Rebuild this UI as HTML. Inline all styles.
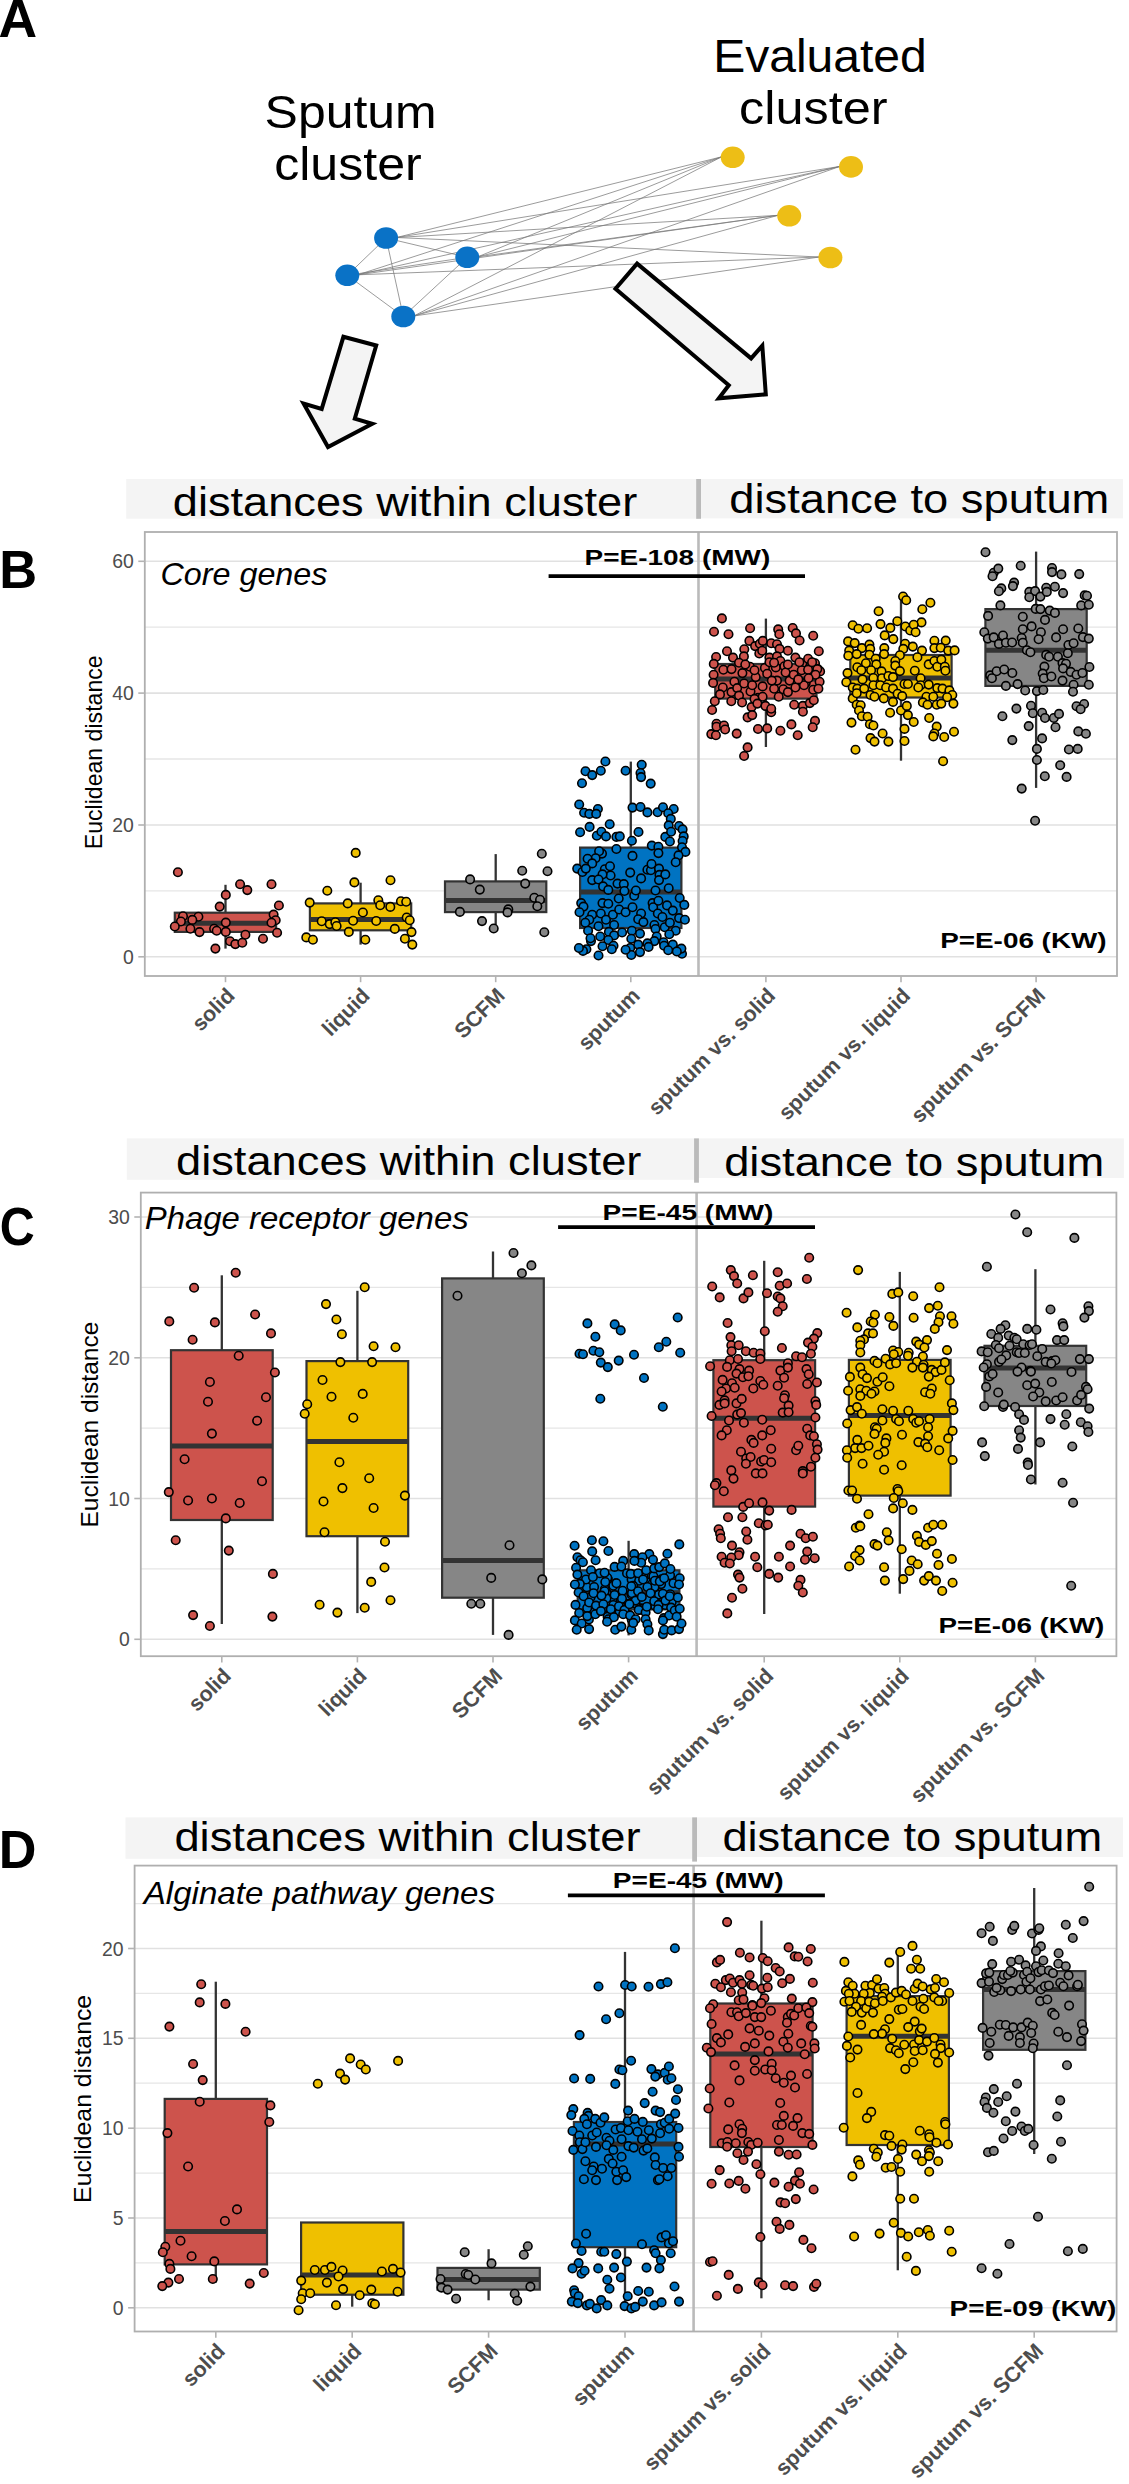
<!DOCTYPE html>
<html><head><meta charset="utf-8"><style>
html,body{margin:0;padding:0;background:#fff;}
body{width:1129px;height:2484px;overflow:hidden;}
svg{display:block;}
text{font-family:"Liberation Sans", sans-serif;}
</style></head><body>
<svg width="1129" height="2484" viewBox="0 0 1129 2484" font-family='"Liberation Sans", sans-serif'><text x="-1.5" y="37.2" font-size="53.5" fill="#000" font-weight="bold">A</text>
<text x="264.6" y="128.4" font-size="46.5" fill="#000" textLength="172.0" lengthAdjust="spacingAndGlyphs">Sputum</text>
<text x="274.2" y="180.2" font-size="46.5" fill="#000" textLength="147.6" lengthAdjust="spacingAndGlyphs">cluster</text>
<text x="713.2" y="72.3" font-size="46.5" fill="#000" textLength="213.6" lengthAdjust="spacingAndGlyphs">Evaluated</text>
<text x="739.0" y="124.4" font-size="46.5" fill="#000" textLength="148.5" lengthAdjust="spacingAndGlyphs">cluster</text>
<g stroke="#7a7a7a" stroke-width="0.75" fill="none">
<line x1="386.1" y1="238.0" x2="347.3" y2="275.3"/>
<line x1="347.3" y1="275.3" x2="403.3" y2="316.5"/>
<line x1="403.3" y1="316.5" x2="467.3" y2="257.3"/>
<line x1="386.1" y1="238.0" x2="403.3" y2="316.5"/>
<line x1="347.3" y1="275.3" x2="467.3" y2="257.3"/>
<line x1="386.1" y1="238.0" x2="467.3" y2="257.3"/>
<line x1="396.6" y1="237.5" x2="721.7" y2="156.8"/>
<line x1="396.6" y1="237.5" x2="840.0" y2="166.4"/>
<line x1="396.6" y1="237.5" x2="778.2" y2="215.3"/>
<line x1="396.6" y1="237.5" x2="819.4" y2="257.0"/>
<line x1="357.8" y1="274.8" x2="721.7" y2="156.8"/>
<line x1="357.8" y1="274.8" x2="840.0" y2="166.4"/>
<line x1="357.8" y1="274.8" x2="778.2" y2="215.3"/>
<line x1="357.8" y1="274.8" x2="819.4" y2="257.0"/>
<line x1="477.8" y1="256.8" x2="721.7" y2="156.8"/>
<line x1="477.8" y1="256.8" x2="840.0" y2="166.4"/>
<line x1="477.8" y1="256.8" x2="778.2" y2="215.3"/>
<line x1="413.8" y1="316.0" x2="721.7" y2="156.8"/>
<line x1="413.8" y1="316.0" x2="840.0" y2="166.4"/>
<line x1="413.8" y1="316.0" x2="778.2" y2="215.3"/>
<line x1="413.8" y1="316.0" x2="819.4" y2="257.0"/>
</g>
<ellipse cx="386.1" cy="238.0" rx="12" ry="10.8" fill="#0A72C6"/>
<ellipse cx="347.3" cy="275.3" rx="12" ry="10.8" fill="#0A72C6"/>
<ellipse cx="467.3" cy="257.3" rx="12" ry="10.8" fill="#0A72C6"/>
<ellipse cx="403.3" cy="316.5" rx="12" ry="10.8" fill="#0A72C6"/>
<ellipse cx="732.7" cy="157.3" rx="12" ry="10.8" fill="#EDBE16"/>
<ellipse cx="851.0" cy="166.9" rx="12" ry="10.8" fill="#EDBE16"/>
<ellipse cx="789.2" cy="215.8" rx="12" ry="10.8" fill="#EDBE16"/>
<ellipse cx="830.4" cy="257.5" rx="12" ry="10.8" fill="#EDBE16"/>
<path d="M343.4,336.8 L376.2,345.5 L354.8,418.6 L372.3,423.8 L328.0,447.1 L303.6,403.5 L321.7,408.9 Z" fill="#f4f4f4" stroke="#000" stroke-width="4" stroke-linejoin="miter"/>
<path d="M637.1,263.6 L751.1,358.4 L762.3,345.7 L765.8,394.3 L718.8,398.3 L728.8,385.2 L615.5,288.7 Z" fill="#f4f4f4" stroke="#000" stroke-width="4" stroke-linejoin="miter"/>
<rect x="126.2" y="479.0" width="572.4" height="39.7" fill="#f4f4f4" stroke="none" stroke-width="0" />
<rect x="698.6" y="479.0" width="424.4" height="39.4" fill="#f4f4f4" stroke="none" stroke-width="0" />
<rect x="696.2" y="479.0" width="4.8" height="39.8" fill="#bababa" stroke="none" stroke-width="0" />
<text x="172.8" y="516.2" font-size="41" fill="#000" textLength="464.5" lengthAdjust="spacingAndGlyphs">distances within cluster</text>
<text x="729.3" y="512.9" font-size="41" fill="#000" textLength="380.0" lengthAdjust="spacingAndGlyphs">distance to sputum</text>
<line x1="144.8" y1="890.9" x2="1117.0" y2="890.9" stroke="#e6e6e6" stroke-width="1.3" />
<line x1="144.8" y1="759.0" x2="1117.0" y2="759.0" stroke="#e6e6e6" stroke-width="1.3" />
<line x1="144.8" y1="627.2" x2="1117.0" y2="627.2" stroke="#e6e6e6" stroke-width="1.3" />
<line x1="144.8" y1="956.8" x2="1117.0" y2="956.8" stroke="#e1e1e1" stroke-width="1.6" />
<line x1="144.8" y1="825.0" x2="1117.0" y2="825.0" stroke="#e1e1e1" stroke-width="1.6" />
<line x1="144.8" y1="693.1" x2="1117.0" y2="693.1" stroke="#e1e1e1" stroke-width="1.6" />
<line x1="144.8" y1="561.3" x2="1117.0" y2="561.3" stroke="#e1e1e1" stroke-width="1.6" />
<line x1="698.5" y1="532.0" x2="698.5" y2="976.0" stroke="#bababa" stroke-width="2.6" />
<line x1="225.5" y1="884.8" x2="225.5" y2="912.7" stroke="#333333" stroke-width="2.3" />
<line x1="225.5" y1="931.9" x2="225.5" y2="948.6" stroke="#333333" stroke-width="2.3" />
<rect x="174.8" y="912.7" width="101.3" height="19.2" fill="#CD534C" stroke="#333333" stroke-width="2.2" />
<line x1="174.8" y1="923.3" x2="276.2" y2="923.3" stroke="#333333" stroke-width="5" />
<g fill="#CD534C" stroke="#000" stroke-width="1.6">
<circle cx="177.9" cy="872.3" r="4.25"/>
<circle cx="240.1" cy="884.3" r="4.25"/>
<circle cx="247.3" cy="890.1" r="4.25"/>
<circle cx="271.5" cy="884.3" r="4.25"/>
<circle cx="225.8" cy="894.9" r="4.25"/>
<circle cx="278.9" cy="905.5" r="4.25"/>
<circle cx="219.7" cy="906.6" r="4.25"/>
<circle cx="183.0" cy="916.2" r="4.25"/>
<circle cx="198.4" cy="916.7" r="4.25"/>
<circle cx="192.3" cy="919.9" r="4.25"/>
<circle cx="180.9" cy="921.5" r="4.25"/>
<circle cx="174.8" cy="926.5" r="4.25"/>
<circle cx="273.6" cy="914.6" r="4.25"/>
<circle cx="275.7" cy="920.2" r="4.25"/>
<circle cx="271.5" cy="922.8" r="4.25"/>
<circle cx="225.8" cy="922.6" r="4.25"/>
<circle cx="190.4" cy="928.7" r="4.25"/>
<circle cx="199.5" cy="932.1" r="4.25"/>
<circle cx="214.1" cy="928.7" r="4.25"/>
<circle cx="216.7" cy="930.8" r="4.25"/>
<circle cx="225.8" cy="931.9" r="4.25"/>
<circle cx="277.1" cy="932.7" r="4.25"/>
<circle cx="245.4" cy="934.8" r="4.25"/>
<circle cx="230.0" cy="941.2" r="4.25"/>
<circle cx="235.3" cy="944.1" r="4.25"/>
<circle cx="242.3" cy="942.7" r="4.25"/>
<circle cx="263.0" cy="938.8" r="4.25"/>
<circle cx="215.4" cy="948.6" r="4.25"/>
</g>
<line x1="360.6" y1="882.7" x2="360.6" y2="903.4" stroke="#333333" stroke-width="2.3" />
<line x1="360.6" y1="930.3" x2="360.6" y2="944.6" stroke="#333333" stroke-width="2.3" />
<rect x="309.9" y="903.4" width="101.3" height="26.9" fill="#EFC000" stroke="#333333" stroke-width="2.2" />
<line x1="309.9" y1="919.6" x2="411.3" y2="919.6" stroke="#333333" stroke-width="5" />
<g fill="#EFC000" stroke="#000" stroke-width="1.6">
<circle cx="355.7" cy="852.9" r="4.25"/>
<circle cx="354.4" cy="882.4" r="4.25"/>
<circle cx="390.5" cy="880.3" r="4.25"/>
<circle cx="327.3" cy="890.7" r="4.25"/>
<circle cx="309.7" cy="902.6" r="4.25"/>
<circle cx="347.7" cy="903.4" r="4.25"/>
<circle cx="378.3" cy="900.2" r="4.25"/>
<circle cx="380.2" cy="905.3" r="4.25"/>
<circle cx="390.3" cy="906.9" r="4.25"/>
<circle cx="400.9" cy="901.3" r="4.25"/>
<circle cx="406.2" cy="901.8" r="4.25"/>
<circle cx="362.9" cy="912.5" r="4.25"/>
<circle cx="321.7" cy="921.2" r="4.25"/>
<circle cx="329.7" cy="924.1" r="4.25"/>
<circle cx="335.3" cy="922.3" r="4.25"/>
<circle cx="336.6" cy="926.0" r="4.25"/>
<circle cx="353.1" cy="920.7" r="4.25"/>
<circle cx="376.2" cy="921.0" r="4.25"/>
<circle cx="406.7" cy="917.5" r="4.25"/>
<circle cx="409.7" cy="920.2" r="4.25"/>
<circle cx="348.8" cy="931.9" r="4.25"/>
<circle cx="394.8" cy="928.9" r="4.25"/>
<circle cx="411.5" cy="932.1" r="4.25"/>
<circle cx="306.3" cy="937.4" r="4.25"/>
<circle cx="312.9" cy="939.8" r="4.25"/>
<circle cx="365.3" cy="939.8" r="4.25"/>
<circle cx="404.9" cy="938.8" r="4.25"/>
<circle cx="412.3" cy="944.6" r="4.25"/>
</g>
<line x1="495.7" y1="854.1" x2="495.7" y2="881.4" stroke="#333333" stroke-width="2.3" />
<line x1="495.7" y1="912.1" x2="495.7" y2="924.8" stroke="#333333" stroke-width="2.3" />
<rect x="445.0" y="881.4" width="101.3" height="30.7" fill="#868686" stroke="#333333" stroke-width="2.2" />
<line x1="445.0" y1="900.5" x2="546.4" y2="900.5" stroke="#333333" stroke-width="5" />
<g fill="#868686" stroke="#000" stroke-width="1.6">
<circle cx="470.1" cy="879.4" r="4.25"/>
<circle cx="479.8" cy="889.6" r="4.25"/>
<circle cx="522.2" cy="870.7" r="4.25"/>
<circle cx="541.8" cy="853.8" r="4.25"/>
<circle cx="547.5" cy="871.2" r="4.25"/>
<circle cx="525.2" cy="883.6" r="4.25"/>
<circle cx="534.3" cy="897.7" r="4.25"/>
<circle cx="540.0" cy="899.7" r="4.25"/>
<circle cx="537.3" cy="906.2" r="4.25"/>
<circle cx="508.3" cy="909.4" r="4.25"/>
<circle cx="507.5" cy="912.4" r="4.25"/>
<circle cx="459.9" cy="911.9" r="4.25"/>
<circle cx="482.0" cy="921.1" r="4.25"/>
<circle cx="493.7" cy="928.5" r="4.25"/>
<circle cx="544.3" cy="932.2" r="4.25"/>
</g>
<line x1="630.8" y1="761.6" x2="630.8" y2="847.6" stroke="#333333" stroke-width="2.3" />
<line x1="630.8" y1="928.0" x2="630.8" y2="955.5" stroke="#333333" stroke-width="2.3" />
<rect x="580.1" y="847.6" width="101.3" height="80.4" fill="#0073C2" stroke="#333333" stroke-width="2.2" />
<line x1="580.1" y1="892.0" x2="681.5" y2="892.0" stroke="#333333" stroke-width="5" />
<g fill="#0073C2" stroke="#000" stroke-width="1.6">
<circle cx="605.4" cy="761.5" r="4.25"/>
<circle cx="585.5" cy="771.3" r="4.25"/>
<circle cx="592.2" cy="775.1" r="4.25"/>
<circle cx="600.8" cy="770.7" r="4.25"/>
<circle cx="582.0" cy="783.2" r="4.25"/>
<circle cx="625.6" cy="770.7" r="4.25"/>
<circle cx="641.7" cy="764.7" r="4.25"/>
<circle cx="640.5" cy="773.0" r="4.25"/>
<circle cx="641.1" cy="777.1" r="4.25"/>
<circle cx="650.7" cy="783.6" r="4.25"/>
<circle cx="579.2" cy="804.5" r="4.25"/>
<circle cx="584.1" cy="812.8" r="4.25"/>
<circle cx="589.3" cy="813.9" r="4.25"/>
<circle cx="597.9" cy="809.0" r="4.25"/>
<circle cx="596.2" cy="813.9" r="4.25"/>
<circle cx="632.5" cy="807.6" r="4.25"/>
<circle cx="640.5" cy="807.0" r="4.25"/>
<circle cx="647.4" cy="812.4" r="4.25"/>
<circle cx="657.6" cy="812.2" r="4.25"/>
<circle cx="663.0" cy="807.3" r="4.25"/>
<circle cx="673.7" cy="809.0" r="4.25"/>
<circle cx="668.2" cy="813.3" r="4.25"/>
<circle cx="670.8" cy="818.9" r="4.25"/>
<circle cx="580.1" cy="832.3" r="4.25"/>
<circle cx="589.6" cy="826.9" r="4.25"/>
<circle cx="596.8" cy="835.8" r="4.25"/>
<circle cx="601.4" cy="831.8" r="4.25"/>
<circle cx="606.0" cy="836.4" r="4.25"/>
<circle cx="609.7" cy="824.3" r="4.25"/>
<circle cx="616.4" cy="836.9" r="4.25"/>
<circle cx="619.8" cy="836.4" r="4.25"/>
<circle cx="631.9" cy="840.7" r="4.25"/>
<circle cx="638.5" cy="832.0" r="4.25"/>
<circle cx="665.3" cy="836.9" r="4.25"/>
<circle cx="668.7" cy="825.4" r="4.25"/>
<circle cx="671.1" cy="831.8" r="4.25"/>
<circle cx="669.9" cy="841.5" r="4.25"/>
<circle cx="679.1" cy="826.0" r="4.25"/>
<circle cx="682.6" cy="829.4" r="4.25"/>
<circle cx="683.7" cy="836.4" r="4.25"/>
<circle cx="682.6" cy="841.0" r="4.25"/>
<circle cx="682.0" cy="847.3" r="4.25"/>
<circle cx="685.4" cy="851.9" r="4.25"/>
<circle cx="678.5" cy="855.4" r="4.25"/>
<circle cx="675.7" cy="862.3" r="4.25"/>
<circle cx="616.4" cy="849.0" r="4.25"/>
<circle cx="632.5" cy="855.9" r="4.25"/>
<circle cx="651.8" cy="845.6" r="4.25"/>
<circle cx="658.4" cy="846.7" r="4.25"/>
<circle cx="658.4" cy="853.1" r="4.25"/>
<circle cx="602.0" cy="853.6" r="4.25"/>
<circle cx="599.1" cy="851.3" r="4.25"/>
<circle cx="595.6" cy="858.2" r="4.25"/>
<circle cx="587.6" cy="858.8" r="4.25"/>
<circle cx="592.2" cy="863.4" r="4.25"/>
<circle cx="577.2" cy="868.6" r="4.25"/>
<circle cx="582.4" cy="872.0" r="4.25"/>
<circle cx="585.8" cy="868.6" r="4.25"/>
<circle cx="604.8" cy="869.2" r="4.25"/>
<circle cx="610.0" cy="866.3" r="4.25"/>
<circle cx="610.6" cy="875.5" r="4.25"/>
<circle cx="602.5" cy="874.4" r="4.25"/>
<circle cx="592.2" cy="880.1" r="4.25"/>
<circle cx="598.5" cy="879.5" r="4.25"/>
<circle cx="603.1" cy="886.4" r="4.25"/>
<circle cx="608.3" cy="889.9" r="4.25"/>
<circle cx="630.2" cy="872.6" r="4.25"/>
<circle cx="641.1" cy="878.4" r="4.25"/>
<circle cx="647.4" cy="869.7" r="4.25"/>
<circle cx="650.9" cy="870.3" r="4.25"/>
<circle cx="651.5" cy="864.0" r="4.25"/>
<circle cx="659.0" cy="868.6" r="4.25"/>
<circle cx="659.5" cy="874.9" r="4.25"/>
<circle cx="659.0" cy="880.1" r="4.25"/>
<circle cx="665.3" cy="874.4" r="4.25"/>
<circle cx="617.5" cy="883.6" r="4.25"/>
<circle cx="623.8" cy="884.1" r="4.25"/>
<circle cx="624.4" cy="891.0" r="4.25"/>
<circle cx="618.7" cy="898.5" r="4.25"/>
<circle cx="634.2" cy="895.7" r="4.25"/>
<circle cx="635.9" cy="890.5" r="4.25"/>
<circle cx="655.5" cy="890.5" r="4.25"/>
<circle cx="668.7" cy="888.2" r="4.25"/>
<circle cx="581.2" cy="903.1" r="4.25"/>
<circle cx="583.5" cy="906.6" r="4.25"/>
<circle cx="602.5" cy="903.1" r="4.25"/>
<circle cx="608.3" cy="903.7" r="4.25"/>
<circle cx="579.5" cy="912.3" r="4.25"/>
<circle cx="592.2" cy="914.7" r="4.25"/>
<circle cx="600.8" cy="913.5" r="4.25"/>
<circle cx="589.3" cy="919.8" r="4.25"/>
<circle cx="606.0" cy="919.8" r="4.25"/>
<circle cx="612.9" cy="914.7" r="4.25"/>
<circle cx="619.2" cy="909.5" r="4.25"/>
<circle cx="625.6" cy="912.3" r="4.25"/>
<circle cx="632.5" cy="907.2" r="4.25"/>
<circle cx="641.1" cy="913.5" r="4.25"/>
<circle cx="638.2" cy="919.3" r="4.25"/>
<circle cx="643.4" cy="922.1" r="4.25"/>
<circle cx="652.6" cy="903.1" r="4.25"/>
<circle cx="653.2" cy="907.2" r="4.25"/>
<circle cx="658.4" cy="900.8" r="4.25"/>
<circle cx="657.8" cy="913.5" r="4.25"/>
<circle cx="662.4" cy="917.0" r="4.25"/>
<circle cx="667.0" cy="905.4" r="4.25"/>
<circle cx="672.8" cy="910.6" r="4.25"/>
<circle cx="679.7" cy="898.0" r="4.25"/>
<circle cx="684.3" cy="904.9" r="4.25"/>
<circle cx="679.1" cy="918.1" r="4.25"/>
<circle cx="684.9" cy="919.8" r="4.25"/>
<circle cx="585.3" cy="922.7" r="4.25"/>
<circle cx="598.5" cy="926.2" r="4.25"/>
<circle cx="614.1" cy="925.0" r="4.25"/>
<circle cx="588.1" cy="930.8" r="4.25"/>
<circle cx="600.2" cy="936.5" r="4.25"/>
<circle cx="608.9" cy="931.9" r="4.25"/>
<circle cx="614.1" cy="935.4" r="4.25"/>
<circle cx="622.1" cy="932.5" r="4.25"/>
<circle cx="631.9" cy="930.8" r="4.25"/>
<circle cx="640.0" cy="933.6" r="4.25"/>
<circle cx="631.3" cy="938.8" r="4.25"/>
<circle cx="608.3" cy="940.0" r="4.25"/>
<circle cx="591.0" cy="941.1" r="4.25"/>
<circle cx="590.5" cy="938.3" r="4.25"/>
<circle cx="654.4" cy="925.0" r="4.25"/>
<circle cx="655.5" cy="929.0" r="4.25"/>
<circle cx="656.7" cy="936.5" r="4.25"/>
<circle cx="654.4" cy="941.1" r="4.25"/>
<circle cx="664.7" cy="927.3" r="4.25"/>
<circle cx="669.9" cy="922.7" r="4.25"/>
<circle cx="675.7" cy="930.8" r="4.25"/>
<circle cx="669.3" cy="934.2" r="4.25"/>
<circle cx="663.6" cy="942.3" r="4.25"/>
<circle cx="664.1" cy="945.7" r="4.25"/>
<circle cx="672.8" cy="944.6" r="4.25"/>
<circle cx="647.4" cy="943.4" r="4.25"/>
<circle cx="648.6" cy="946.9" r="4.25"/>
<circle cx="638.2" cy="944.6" r="4.25"/>
<circle cx="640.0" cy="952.1" r="4.25"/>
<circle cx="630.2" cy="948.0" r="4.25"/>
<circle cx="631.3" cy="955.0" r="4.25"/>
<circle cx="625.6" cy="949.8" r="4.25"/>
<circle cx="613.5" cy="945.7" r="4.25"/>
<circle cx="611.8" cy="949.2" r="4.25"/>
<circle cx="602.5" cy="946.3" r="4.25"/>
<circle cx="598.5" cy="955.5" r="4.25"/>
<circle cx="586.4" cy="949.2" r="4.25"/>
<circle cx="583.0" cy="950.9" r="4.25"/>
<circle cx="578.9" cy="948.0" r="4.25"/>
<circle cx="668.2" cy="950.3" r="4.25"/>
<circle cx="679.7" cy="949.8" r="4.25"/>
<circle cx="682.0" cy="953.8" r="4.25"/>
<circle cx="681.4" cy="948.6" r="4.25"/>
<circle cx="676.8" cy="951.5" r="4.25"/>
</g>
<line x1="765.9" y1="618.6" x2="765.9" y2="664.0" stroke="#333333" stroke-width="2.3" />
<line x1="765.9" y1="698.6" x2="765.9" y2="747.0" stroke="#333333" stroke-width="2.3" />
<rect x="715.2" y="664.0" width="101.3" height="34.6" fill="#CD534C" stroke="#333333" stroke-width="2.2" />
<line x1="715.2" y1="678.9" x2="816.6" y2="678.9" stroke="#333333" stroke-width="5" />
<g fill="#CD534C" stroke="#000" stroke-width="1.6">
<circle cx="721.9" cy="618.4" r="4.25"/>
<circle cx="714.0" cy="631.7" r="4.25"/>
<circle cx="728.5" cy="634.2" r="4.25"/>
<circle cx="750.1" cy="628.2" r="4.25"/>
<circle cx="778.2" cy="629.4" r="4.25"/>
<circle cx="779.3" cy="634.3" r="4.25"/>
<circle cx="792.7" cy="628.0" r="4.25"/>
<circle cx="796.0" cy="633.4" r="4.25"/>
<circle cx="799.6" cy="640.5" r="4.25"/>
<circle cx="813.2" cy="635.7" r="4.25"/>
<circle cx="818.8" cy="651.2" r="4.25"/>
<circle cx="749.4" cy="640.9" r="4.25"/>
<circle cx="755.1" cy="646.1" r="4.25"/>
<circle cx="759.8" cy="643.8" r="4.25"/>
<circle cx="762.8" cy="640.9" r="4.25"/>
<circle cx="759.3" cy="653.5" r="4.25"/>
<circle cx="762.2" cy="650.7" r="4.25"/>
<circle cx="771.2" cy="643.2" r="4.25"/>
<circle cx="777.0" cy="644.3" r="4.25"/>
<circle cx="779.6" cy="648.9" r="4.25"/>
<circle cx="787.9" cy="650.7" r="4.25"/>
<circle cx="727.0" cy="651.2" r="4.25"/>
<circle cx="733.0" cy="657.6" r="4.25"/>
<circle cx="744.3" cy="649.3" r="4.25"/>
<circle cx="743.9" cy="656.4" r="4.25"/>
<circle cx="716.1" cy="657.0" r="4.25"/>
<circle cx="713.8" cy="663.9" r="4.25"/>
<circle cx="739.0" cy="662.8" r="4.25"/>
<circle cx="769.5" cy="657.6" r="4.25"/>
<circle cx="777.0" cy="656.4" r="4.25"/>
<circle cx="780.4" cy="661.0" r="4.25"/>
<circle cx="795.4" cy="657.6" r="4.25"/>
<circle cx="802.3" cy="663.3" r="4.25"/>
<circle cx="808.1" cy="658.7" r="4.25"/>
<circle cx="815.0" cy="663.3" r="4.25"/>
<circle cx="817.8" cy="669.1" r="4.25"/>
<circle cx="820.1" cy="671.4" r="4.25"/>
<circle cx="723.4" cy="669.7" r="4.25"/>
<circle cx="713.6" cy="674.8" r="4.25"/>
<circle cx="713.1" cy="682.9" r="4.25"/>
<circle cx="722.8" cy="687.5" r="4.25"/>
<circle cx="720.0" cy="694.4" r="4.25"/>
<circle cx="731.5" cy="692.1" r="4.25"/>
<circle cx="734.4" cy="681.8" r="4.25"/>
<circle cx="737.2" cy="688.1" r="4.25"/>
<circle cx="739.0" cy="695.6" r="4.25"/>
<circle cx="742.4" cy="673.1" r="4.25"/>
<circle cx="744.1" cy="683.5" r="4.25"/>
<circle cx="749.9" cy="666.8" r="4.25"/>
<circle cx="750.5" cy="691.5" r="4.25"/>
<circle cx="752.2" cy="685.2" r="4.25"/>
<circle cx="755.7" cy="677.1" r="4.25"/>
<circle cx="762.6" cy="686.4" r="4.25"/>
<circle cx="764.9" cy="667.9" r="4.25"/>
<circle cx="767.2" cy="673.7" r="4.25"/>
<circle cx="774.1" cy="688.7" r="4.25"/>
<circle cx="775.8" cy="667.4" r="4.25"/>
<circle cx="777.0" cy="680.6" r="4.25"/>
<circle cx="778.7" cy="696.7" r="4.25"/>
<circle cx="783.3" cy="689.2" r="4.25"/>
<circle cx="784.4" cy="666.2" r="4.25"/>
<circle cx="785.6" cy="672.5" r="4.25"/>
<circle cx="789.6" cy="680.6" r="4.25"/>
<circle cx="793.7" cy="674.8" r="4.25"/>
<circle cx="795.4" cy="687.5" r="4.25"/>
<circle cx="801.7" cy="670.2" r="4.25"/>
<circle cx="805.7" cy="682.9" r="4.25"/>
<circle cx="808.1" cy="669.7" r="4.25"/>
<circle cx="813.2" cy="689.8" r="4.25"/>
<circle cx="817.3" cy="669.1" r="4.25"/>
<circle cx="819.6" cy="681.8" r="4.25"/>
<circle cx="818.4" cy="688.7" r="4.25"/>
<circle cx="758.0" cy="697.9" r="4.25"/>
<circle cx="762.6" cy="696.7" r="4.25"/>
<circle cx="754.5" cy="699.0" r="4.25"/>
<circle cx="769.5" cy="662.2" r="4.25"/>
<circle cx="774.1" cy="662.8" r="4.25"/>
<circle cx="787.9" cy="664.5" r="4.25"/>
<circle cx="799.4" cy="662.2" r="4.25"/>
<circle cx="812.1" cy="662.2" r="4.25"/>
<circle cx="815.5" cy="674.8" r="4.25"/>
<circle cx="787.9" cy="692.1" r="4.25"/>
<circle cx="804.0" cy="685.2" r="4.25"/>
<circle cx="808.6" cy="678.3" r="4.25"/>
<circle cx="745.3" cy="664.5" r="4.25"/>
<circle cx="754.5" cy="670.2" r="4.25"/>
<circle cx="771.8" cy="680.6" r="4.25"/>
<circle cx="798.3" cy="679.4" r="4.25"/>
<circle cx="731.5" cy="669.1" r="4.25"/>
<circle cx="714.8" cy="701.3" r="4.25"/>
<circle cx="712.1" cy="710.0" r="4.25"/>
<circle cx="731.3" cy="701.3" r="4.25"/>
<circle cx="742.1" cy="702.5" r="4.25"/>
<circle cx="751.6" cy="707.1" r="4.25"/>
<circle cx="757.4" cy="703.6" r="4.25"/>
<circle cx="765.4" cy="705.9" r="4.25"/>
<circle cx="771.2" cy="712.3" r="4.25"/>
<circle cx="771.2" cy="708.8" r="4.25"/>
<circle cx="747.6" cy="717.4" r="4.25"/>
<circle cx="752.2" cy="715.1" r="4.25"/>
<circle cx="794.2" cy="704.8" r="4.25"/>
<circle cx="802.9" cy="705.9" r="4.25"/>
<circle cx="802.9" cy="711.7" r="4.25"/>
<circle cx="809.8" cy="703.1" r="4.25"/>
<circle cx="813.8" cy="700.2" r="4.25"/>
<circle cx="716.5" cy="723.8" r="4.25"/>
<circle cx="716.5" cy="726.7" r="4.25"/>
<circle cx="724.0" cy="725.5" r="4.25"/>
<circle cx="725.1" cy="729.5" r="4.25"/>
<circle cx="711.3" cy="734.1" r="4.25"/>
<circle cx="715.9" cy="735.3" r="4.25"/>
<circle cx="736.7" cy="733.6" r="4.25"/>
<circle cx="758.0" cy="729.0" r="4.25"/>
<circle cx="767.2" cy="728.4" r="4.25"/>
<circle cx="780.4" cy="730.7" r="4.25"/>
<circle cx="791.4" cy="724.4" r="4.25"/>
<circle cx="797.7" cy="735.3" r="4.25"/>
<circle cx="815.0" cy="720.9" r="4.25"/>
<circle cx="812.7" cy="727.2" r="4.25"/>
<circle cx="747.6" cy="747.4" r="4.25"/>
<circle cx="744.1" cy="756.0" r="4.25"/>
</g>
<line x1="901.0" y1="598.8" x2="901.0" y2="655.0" stroke="#333333" stroke-width="2.3" />
<line x1="901.0" y1="697.5" x2="901.0" y2="760.7" stroke="#333333" stroke-width="2.3" />
<rect x="850.3" y="655.0" width="101.3" height="42.5" fill="#EFC000" stroke="#333333" stroke-width="2.2" />
<line x1="850.3" y1="678.1" x2="951.7" y2="678.1" stroke="#333333" stroke-width="5" />
<g fill="#EFC000" stroke="#000" stroke-width="1.6">
<circle cx="903.1" cy="596.5" r="4.25"/>
<circle cx="906.2" cy="600.2" r="4.25"/>
<circle cx="930.4" cy="602.8" r="4.25"/>
<circle cx="922.3" cy="609.2" r="4.25"/>
<circle cx="878.6" cy="611.3" r="4.25"/>
<circle cx="897.3" cy="621.3" r="4.25"/>
<circle cx="921.5" cy="622.4" r="4.25"/>
<circle cx="852.7" cy="625.3" r="4.25"/>
<circle cx="858.4" cy="628.8" r="4.25"/>
<circle cx="867.1" cy="628.2" r="4.25"/>
<circle cx="880.5" cy="624.1" r="4.25"/>
<circle cx="890.3" cy="627.9" r="4.25"/>
<circle cx="905.4" cy="626.5" r="4.25"/>
<circle cx="910.2" cy="630.5" r="4.25"/>
<circle cx="913.7" cy="624.7" r="4.25"/>
<circle cx="915.6" cy="632.2" r="4.25"/>
<circle cx="884.7" cy="635.4" r="4.25"/>
<circle cx="893.3" cy="639.1" r="4.25"/>
<circle cx="848.1" cy="641.4" r="4.25"/>
<circle cx="854.7" cy="643.1" r="4.25"/>
<circle cx="861.9" cy="648.1" r="4.25"/>
<circle cx="869.4" cy="644.6" r="4.25"/>
<circle cx="870.2" cy="648.9" r="4.25"/>
<circle cx="884.3" cy="648.1" r="4.25"/>
<circle cx="884.1" cy="654.1" r="4.25"/>
<circle cx="905.1" cy="643.7" r="4.25"/>
<circle cx="903.3" cy="648.9" r="4.25"/>
<circle cx="912.8" cy="646.6" r="4.25"/>
<circle cx="922.0" cy="650.6" r="4.25"/>
<circle cx="934.4" cy="640.8" r="4.25"/>
<circle cx="945.7" cy="640.6" r="4.25"/>
<circle cx="934.4" cy="648.1" r="4.25"/>
<circle cx="940.7" cy="647.8" r="4.25"/>
<circle cx="948.2" cy="650.6" r="4.25"/>
<circle cx="954.6" cy="650.4" r="4.25"/>
<circle cx="849.2" cy="650.6" r="4.25"/>
<circle cx="848.3" cy="655.8" r="4.25"/>
<circle cx="856.7" cy="654.1" r="4.25"/>
<circle cx="869.4" cy="654.7" r="4.25"/>
<circle cx="899.9" cy="655.2" r="4.25"/>
<circle cx="875.7" cy="658.7" r="4.25"/>
<circle cx="876.3" cy="664.4" r="4.25"/>
<circle cx="895.3" cy="661.0" r="4.25"/>
<circle cx="895.3" cy="665.6" r="4.25"/>
<circle cx="899.9" cy="671.1" r="4.25"/>
<circle cx="917.4" cy="657.3" r="4.25"/>
<circle cx="865.9" cy="663.3" r="4.25"/>
<circle cx="857.3" cy="667.3" r="4.25"/>
<circle cx="861.3" cy="670.2" r="4.25"/>
<circle cx="871.1" cy="670.2" r="4.25"/>
<circle cx="847.5" cy="673.1" r="4.25"/>
<circle cx="846.3" cy="682.3" r="4.25"/>
<circle cx="862.5" cy="679.4" r="4.25"/>
<circle cx="873.4" cy="678.0" r="4.25"/>
<circle cx="881.5" cy="671.4" r="4.25"/>
<circle cx="882.0" cy="678.3" r="4.25"/>
<circle cx="888.4" cy="676.0" r="4.25"/>
<circle cx="893.0" cy="677.1" r="4.25"/>
<circle cx="904.5" cy="684.0" r="4.25"/>
<circle cx="907.9" cy="684.0" r="4.25"/>
<circle cx="914.8" cy="670.8" r="4.25"/>
<circle cx="920.6" cy="678.3" r="4.25"/>
<circle cx="920.6" cy="685.2" r="4.25"/>
<circle cx="918.3" cy="687.5" r="4.25"/>
<circle cx="928.7" cy="664.4" r="4.25"/>
<circle cx="934.4" cy="661.0" r="4.25"/>
<circle cx="937.3" cy="666.8" r="4.25"/>
<circle cx="941.3" cy="659.6" r="4.25"/>
<circle cx="944.8" cy="666.8" r="4.25"/>
<circle cx="945.4" cy="670.8" r="4.25"/>
<circle cx="928.7" cy="684.6" r="4.25"/>
<circle cx="937.3" cy="688.1" r="4.25"/>
<circle cx="942.5" cy="688.6" r="4.25"/>
<circle cx="949.4" cy="690.4" r="4.25"/>
<circle cx="952.3" cy="695.0" r="4.25"/>
<circle cx="852.7" cy="687.5" r="4.25"/>
<circle cx="857.3" cy="688.6" r="4.25"/>
<circle cx="864.2" cy="688.6" r="4.25"/>
<circle cx="873.4" cy="685.2" r="4.25"/>
<circle cx="880.3" cy="685.2" r="4.25"/>
<circle cx="886.1" cy="687.5" r="4.25"/>
<circle cx="893.0" cy="688.6" r="4.25"/>
<circle cx="897.6" cy="693.8" r="4.25"/>
<circle cx="902.2" cy="696.1" r="4.25"/>
<circle cx="870.5" cy="695.0" r="4.25"/>
<circle cx="874.5" cy="696.7" r="4.25"/>
<circle cx="883.8" cy="698.4" r="4.25"/>
<circle cx="893.0" cy="701.9" r="4.25"/>
<circle cx="852.7" cy="698.4" r="4.25"/>
<circle cx="926.4" cy="696.7" r="4.25"/>
<circle cx="933.3" cy="696.7" r="4.25"/>
<circle cx="947.1" cy="697.3" r="4.25"/>
<circle cx="856.7" cy="693.2" r="4.25"/>
<circle cx="856.7" cy="704.7" r="4.25"/>
<circle cx="860.7" cy="705.3" r="4.25"/>
<circle cx="859.0" cy="710.5" r="4.25"/>
<circle cx="861.9" cy="716.3" r="4.25"/>
<circle cx="867.6" cy="716.8" r="4.25"/>
<circle cx="851.5" cy="722.6" r="4.25"/>
<circle cx="869.9" cy="724.3" r="4.25"/>
<circle cx="873.4" cy="725.5" r="4.25"/>
<circle cx="890.1" cy="712.8" r="4.25"/>
<circle cx="901.0" cy="710.5" r="4.25"/>
<circle cx="906.8" cy="705.9" r="4.25"/>
<circle cx="907.9" cy="715.1" r="4.25"/>
<circle cx="913.7" cy="722.0" r="4.25"/>
<circle cx="922.9" cy="702.4" r="4.25"/>
<circle cx="927.5" cy="704.7" r="4.25"/>
<circle cx="936.7" cy="704.7" r="4.25"/>
<circle cx="941.3" cy="703.6" r="4.25"/>
<circle cx="953.4" cy="703.6" r="4.25"/>
<circle cx="929.2" cy="718.0" r="4.25"/>
<circle cx="936.7" cy="726.6" r="4.25"/>
<circle cx="934.4" cy="733.5" r="4.25"/>
<circle cx="933.3" cy="736.4" r="4.25"/>
<circle cx="944.2" cy="737.0" r="4.25"/>
<circle cx="954.0" cy="731.8" r="4.25"/>
<circle cx="904.5" cy="728.9" r="4.25"/>
<circle cx="904.5" cy="741.0" r="4.25"/>
<circle cx="882.6" cy="733.5" r="4.25"/>
<circle cx="870.5" cy="738.1" r="4.25"/>
<circle cx="874.5" cy="741.6" r="4.25"/>
<circle cx="888.4" cy="741.6" r="4.25"/>
<circle cx="855.5" cy="749.7" r="4.25"/>
<circle cx="943.1" cy="761.2" r="4.25"/>
</g>
<line x1="1036.1" y1="551.6" x2="1036.1" y2="609.1" stroke="#333333" stroke-width="2.3" />
<line x1="1036.1" y1="685.9" x2="1036.1" y2="787.9" stroke="#333333" stroke-width="2.3" />
<rect x="985.4" y="609.1" width="101.3" height="76.8" fill="#868686" stroke="#333333" stroke-width="2.2" />
<line x1="985.4" y1="650.2" x2="1086.8" y2="650.2" stroke="#333333" stroke-width="5" />
<g fill="#868686" stroke="#000" stroke-width="1.6">
<circle cx="985.5" cy="552.3" r="4.25"/>
<circle cx="1020.7" cy="565.7" r="4.25"/>
<circle cx="993.7" cy="572.7" r="4.25"/>
<circle cx="998.3" cy="568.6" r="4.25"/>
<circle cx="992.5" cy="576.2" r="4.25"/>
<circle cx="1014.1" cy="582.6" r="4.25"/>
<circle cx="1012.9" cy="586.1" r="4.25"/>
<circle cx="1001.3" cy="588.4" r="4.25"/>
<circle cx="998.9" cy="591.3" r="4.25"/>
<circle cx="1029.3" cy="591.9" r="4.25"/>
<circle cx="1035.1" cy="591.1" r="4.25"/>
<circle cx="1029.3" cy="597.2" r="4.25"/>
<circle cx="1040.4" cy="596.6" r="4.25"/>
<circle cx="1046.2" cy="587.8" r="4.25"/>
<circle cx="1046.8" cy="591.9" r="4.25"/>
<circle cx="1054.9" cy="586.7" r="4.25"/>
<circle cx="1052.0" cy="568.0" r="4.25"/>
<circle cx="1052.0" cy="572.1" r="4.25"/>
<circle cx="1061.4" cy="574.4" r="4.25"/>
<circle cx="1079.2" cy="574.1" r="4.25"/>
<circle cx="1063.1" cy="593.1" r="4.25"/>
<circle cx="1084.7" cy="595.4" r="4.25"/>
<circle cx="1087.0" cy="595.8" r="4.25"/>
<circle cx="1000.4" cy="605.4" r="4.25"/>
<circle cx="1081.2" cy="605.4" r="4.25"/>
<circle cx="1088.8" cy="604.8" r="4.25"/>
<circle cx="1035.7" cy="608.9" r="4.25"/>
<circle cx="1040.4" cy="609.1" r="4.25"/>
<circle cx="1049.7" cy="610.6" r="4.25"/>
<circle cx="1054.9" cy="612.9" r="4.25"/>
<circle cx="988.1" cy="615.9" r="4.25"/>
<circle cx="1022.8" cy="616.8" r="4.25"/>
<circle cx="1045.0" cy="619.9" r="4.25"/>
<circle cx="1031.6" cy="626.4" r="4.25"/>
<circle cx="1022.8" cy="629.3" r="4.25"/>
<circle cx="1040.9" cy="632.2" r="4.25"/>
<circle cx="1063.1" cy="629.3" r="4.25"/>
<circle cx="1078.3" cy="628.5" r="4.25"/>
<circle cx="984.3" cy="632.2" r="4.25"/>
<circle cx="987.8" cy="638.6" r="4.25"/>
<circle cx="993.7" cy="637.4" r="4.25"/>
<circle cx="1003.0" cy="635.5" r="4.25"/>
<circle cx="998.9" cy="643.9" r="4.25"/>
<circle cx="1005.9" cy="642.7" r="4.25"/>
<circle cx="1012.1" cy="642.5" r="4.25"/>
<circle cx="1021.7" cy="638.0" r="4.25"/>
<circle cx="1022.8" cy="642.7" r="4.25"/>
<circle cx="1038.6" cy="639.2" r="4.25"/>
<circle cx="1056.1" cy="637.4" r="4.25"/>
<circle cx="1082.9" cy="637.1" r="4.25"/>
<circle cx="1088.8" cy="638.6" r="4.25"/>
<circle cx="1068.4" cy="645.0" r="4.25"/>
<circle cx="1073.6" cy="643.3" r="4.25"/>
<circle cx="1026.9" cy="650.3" r="4.25"/>
<circle cx="1030.4" cy="652.3" r="4.25"/>
<circle cx="1046.2" cy="654.9" r="4.25"/>
<circle cx="1049.1" cy="656.7" r="4.25"/>
<circle cx="1057.9" cy="656.7" r="4.25"/>
<circle cx="1067.8" cy="653.2" r="4.25"/>
<circle cx="1062.5" cy="663.1" r="4.25"/>
<circle cx="1066.0" cy="663.7" r="4.25"/>
<circle cx="1044.4" cy="666.6" r="4.25"/>
<circle cx="990.2" cy="675.4" r="4.25"/>
<circle cx="996.6" cy="671.3" r="4.25"/>
<circle cx="1004.2" cy="669.5" r="4.25"/>
<circle cx="1012.3" cy="673.0" r="4.25"/>
<circle cx="991.9" cy="678.3" r="4.25"/>
<circle cx="1042.7" cy="673.6" r="4.25"/>
<circle cx="1043.9" cy="678.3" r="4.25"/>
<circle cx="1051.4" cy="676.5" r="4.25"/>
<circle cx="1063.1" cy="668.4" r="4.25"/>
<circle cx="1070.7" cy="671.9" r="4.25"/>
<circle cx="1076.5" cy="674.8" r="4.25"/>
<circle cx="1082.4" cy="673.0" r="4.25"/>
<circle cx="1089.4" cy="667.0" r="4.25"/>
<circle cx="1062.5" cy="680.6" r="4.25"/>
<circle cx="1005.9" cy="685.9" r="4.25"/>
<circle cx="1017.6" cy="684.1" r="4.25"/>
<circle cx="1025.2" cy="690.5" r="4.25"/>
<circle cx="1036.9" cy="691.1" r="4.25"/>
<circle cx="1043.3" cy="690.0" r="4.25"/>
<circle cx="1073.6" cy="684.7" r="4.25"/>
<circle cx="1073.0" cy="691.7" r="4.25"/>
<circle cx="1088.8" cy="684.7" r="4.25"/>
<circle cx="1031.0" cy="705.7" r="4.25"/>
<circle cx="1016.4" cy="708.6" r="4.25"/>
<circle cx="1002.4" cy="716.2" r="4.25"/>
<circle cx="1032.8" cy="713.3" r="4.25"/>
<circle cx="1042.1" cy="712.7" r="4.25"/>
<circle cx="1045.0" cy="718.0" r="4.25"/>
<circle cx="1053.8" cy="718.0" r="4.25"/>
<circle cx="1059.0" cy="713.9" r="4.25"/>
<circle cx="1076.5" cy="706.3" r="4.25"/>
<circle cx="1084.1" cy="704.0" r="4.25"/>
<circle cx="1080.6" cy="709.2" r="4.25"/>
<circle cx="1028.7" cy="726.1" r="4.25"/>
<circle cx="1055.5" cy="727.3" r="4.25"/>
<circle cx="1078.3" cy="731.4" r="4.25"/>
<circle cx="1085.9" cy="733.7" r="4.25"/>
<circle cx="1012.3" cy="740.1" r="4.25"/>
<circle cx="1042.1" cy="738.4" r="4.25"/>
<circle cx="1036.9" cy="748.9" r="4.25"/>
<circle cx="1068.9" cy="749.5" r="4.25"/>
<circle cx="1077.7" cy="748.9" r="4.25"/>
<circle cx="1036.9" cy="760.0" r="4.25"/>
<circle cx="1060.2" cy="765.2" r="4.25"/>
<circle cx="1044.8" cy="776.3" r="4.25"/>
<circle cx="1066.6" cy="776.9" r="4.25"/>
<circle cx="1021.7" cy="788.6" r="4.25"/>
<circle cx="1035.1" cy="820.7" r="4.25"/>
</g>
<rect x="144.8" y="532.0" width="972.2" height="444.0" fill="none" stroke="#afafaf" stroke-width="1.8" />
<line x1="138.3" y1="956.8" x2="144.8" y2="956.8" stroke="#b3b3b3" stroke-width="1.6" />
<text x="133.8" y="963.9" font-size="19.4" fill="#4d4d4d" text-anchor="end">0</text>
<line x1="138.3" y1="825.0" x2="144.8" y2="825.0" stroke="#b3b3b3" stroke-width="1.6" />
<text x="133.8" y="832.1" font-size="19.4" fill="#4d4d4d" text-anchor="end">20</text>
<line x1="138.3" y1="693.1" x2="144.8" y2="693.1" stroke="#b3b3b3" stroke-width="1.6" />
<text x="133.8" y="700.2" font-size="19.4" fill="#4d4d4d" text-anchor="end">40</text>
<line x1="138.3" y1="561.3" x2="144.8" y2="561.3" stroke="#b3b3b3" stroke-width="1.6" />
<text x="133.8" y="568.4" font-size="19.4" fill="#4d4d4d" text-anchor="end">60</text>
<line x1="225.5" y1="976.0" x2="225.5" y2="982.2" stroke="#b3b3b3" stroke-width="1.6" />
<text x="0.0" y="0.0" font-size="21.4" fill="#4d4d4d" font-weight="bold" text-anchor="end" transform="translate(236.0,997.0) rotate(-45)">solid</text>
<line x1="360.6" y1="976.0" x2="360.6" y2="982.2" stroke="#b3b3b3" stroke-width="1.6" />
<text x="0.0" y="0.0" font-size="21.4" fill="#4d4d4d" font-weight="bold" text-anchor="end" transform="translate(371.1,997.0) rotate(-45)">liquid</text>
<line x1="495.7" y1="976.0" x2="495.7" y2="982.2" stroke="#b3b3b3" stroke-width="1.6" />
<text x="0.0" y="0.0" font-size="21.4" fill="#4d4d4d" font-weight="bold" text-anchor="end" transform="translate(506.2,997.0) rotate(-45)">SCFM</text>
<line x1="630.8" y1="976.0" x2="630.8" y2="982.2" stroke="#b3b3b3" stroke-width="1.6" />
<text x="0.0" y="0.0" font-size="21.4" fill="#4d4d4d" font-weight="bold" text-anchor="end" transform="translate(641.3,997.0) rotate(-45)">sputum</text>
<line x1="765.9" y1="976.0" x2="765.9" y2="982.2" stroke="#b3b3b3" stroke-width="1.6" />
<text x="0.0" y="0.0" font-size="21.4" fill="#4d4d4d" font-weight="bold" text-anchor="end" transform="translate(776.4,997.0) rotate(-45)">sputum vs. solid</text>
<line x1="901.0" y1="976.0" x2="901.0" y2="982.2" stroke="#b3b3b3" stroke-width="1.6" />
<text x="0.0" y="0.0" font-size="21.4" fill="#4d4d4d" font-weight="bold" text-anchor="end" transform="translate(911.5,997.0) rotate(-45)">sputum vs. liquid</text>
<line x1="1036.1" y1="976.0" x2="1036.1" y2="982.2" stroke="#b3b3b3" stroke-width="1.6" />
<text x="0.0" y="0.0" font-size="21.4" fill="#4d4d4d" font-weight="bold" text-anchor="end" transform="translate(1046.6,997.0) rotate(-45)">sputum vs. SCFM</text>
<text x="0.0" y="0.0" font-size="24.5" fill="#000" text-anchor="middle" textLength="193.8" lengthAdjust="spacingAndGlyphs" transform="translate(101.9,752.3) rotate(-90)">Euclidean distance</text>
<text x="160.4" y="584.8" font-size="30.5" fill="#000" font-style="italic" textLength="167.1" lengthAdjust="spacingAndGlyphs">Core genes</text>
<text x="584.6" y="564.5" font-size="22.5" fill="#000" font-weight="bold" textLength="185.6" lengthAdjust="spacingAndGlyphs">P=E-108 (MW)</text>
<line x1="548.6" y1="576.2" x2="805.0" y2="576.2" stroke="#000" stroke-width="3.7" />
<text x="940.2" y="948.1" font-size="22.5" fill="#000" font-weight="bold" textLength="166.4" lengthAdjust="spacingAndGlyphs">P=E-06 (KW)</text>
<text x="-0.7" y="588.2" font-size="53.5" fill="#000" font-weight="bold" textLength="37.9" lengthAdjust="spacingAndGlyphs">B</text>
<rect x="126.8" y="1138.4" width="569.7" height="41.4" fill="#f4f4f4" stroke="none" stroke-width="0" />
<rect x="696.5" y="1138.4" width="427.4" height="39.6" fill="#f4f4f4" stroke="none" stroke-width="0" />
<rect x="694.1" y="1138.4" width="4.8" height="44.3" fill="#bababa" stroke="none" stroke-width="0" />
<text x="176.0" y="1175.2" font-size="41" fill="#000" textLength="465.4" lengthAdjust="spacingAndGlyphs">distances within cluster</text>
<text x="724.2" y="1175.5" font-size="41" fill="#000" textLength="380.1" lengthAdjust="spacingAndGlyphs">distance to sputum</text>
<line x1="140.8" y1="1568.9" x2="1116.4" y2="1568.9" stroke="#e6e6e6" stroke-width="1.3" />
<line x1="140.8" y1="1428.1" x2="1116.4" y2="1428.1" stroke="#e6e6e6" stroke-width="1.3" />
<line x1="140.8" y1="1287.4" x2="1116.4" y2="1287.4" stroke="#e6e6e6" stroke-width="1.3" />
<line x1="140.8" y1="1639.3" x2="1116.4" y2="1639.3" stroke="#e1e1e1" stroke-width="1.6" />
<line x1="140.8" y1="1498.5" x2="1116.4" y2="1498.5" stroke="#e1e1e1" stroke-width="1.6" />
<line x1="140.8" y1="1357.8" x2="1116.4" y2="1357.8" stroke="#e1e1e1" stroke-width="1.6" />
<line x1="140.8" y1="1217.0" x2="1116.4" y2="1217.0" stroke="#e1e1e1" stroke-width="1.6" />
<line x1="696.6" y1="1192.6" x2="696.6" y2="1656.2" stroke="#bababa" stroke-width="2.6" />
<line x1="221.8" y1="1275.3" x2="221.8" y2="1350.2" stroke="#333333" stroke-width="2.3" />
<line x1="221.8" y1="1519.9" x2="221.8" y2="1624.0" stroke="#333333" stroke-width="2.3" />
<rect x="171.0" y="1350.2" width="101.7" height="169.8" fill="#CD534C" stroke="#333333" stroke-width="2.2" />
<line x1="171.0" y1="1446.0" x2="272.6" y2="1446.0" stroke="#333333" stroke-width="5" />
<g fill="#CD534C" stroke="#000" stroke-width="1.6">
<circle cx="235.7" cy="1272.8" r="4.25"/>
<circle cx="194.1" cy="1287.7" r="4.25"/>
<circle cx="169.3" cy="1321.4" r="4.25"/>
<circle cx="214.9" cy="1322.4" r="4.25"/>
<circle cx="255.1" cy="1314.5" r="4.25"/>
<circle cx="271.0" cy="1333.4" r="4.25"/>
<circle cx="192.6" cy="1339.8" r="4.25"/>
<circle cx="238.7" cy="1355.7" r="4.25"/>
<circle cx="274.9" cy="1372.5" r="4.25"/>
<circle cx="209.9" cy="1382.0" r="4.25"/>
<circle cx="208.0" cy="1401.8" r="4.25"/>
<circle cx="266.0" cy="1397.3" r="4.25"/>
<circle cx="257.1" cy="1420.7" r="4.25"/>
<circle cx="211.9" cy="1433.6" r="4.25"/>
<circle cx="184.6" cy="1459.3" r="4.25"/>
<circle cx="262.0" cy="1481.2" r="4.25"/>
<circle cx="168.8" cy="1492.1" r="4.25"/>
<circle cx="188.1" cy="1500.5" r="4.25"/>
<circle cx="211.9" cy="1498.5" r="4.25"/>
<circle cx="239.7" cy="1503.0" r="4.25"/>
<circle cx="225.8" cy="1518.4" r="4.25"/>
<circle cx="175.7" cy="1540.2" r="4.25"/>
<circle cx="228.8" cy="1550.6" r="4.25"/>
<circle cx="272.9" cy="1573.9" r="4.25"/>
<circle cx="193.1" cy="1615.1" r="4.25"/>
<circle cx="209.9" cy="1626.0" r="4.25"/>
<circle cx="272.4" cy="1616.6" r="4.25"/>
</g>
<line x1="357.4" y1="1290.8" x2="357.4" y2="1361.1" stroke="#333333" stroke-width="2.3" />
<line x1="357.4" y1="1536.3" x2="357.4" y2="1613.1" stroke="#333333" stroke-width="2.3" />
<rect x="306.5" y="1361.1" width="101.7" height="175.1" fill="#EFC000" stroke="#333333" stroke-width="2.2" />
<line x1="306.5" y1="1441.5" x2="408.2" y2="1441.5" stroke="#333333" stroke-width="5" />
<g fill="#EFC000" stroke="#000" stroke-width="1.6">
<circle cx="364.7" cy="1287.2" r="4.25"/>
<circle cx="326.0" cy="1304.1" r="4.25"/>
<circle cx="336.4" cy="1319.5" r="4.25"/>
<circle cx="341.9" cy="1334.3" r="4.25"/>
<circle cx="373.6" cy="1346.2" r="4.25"/>
<circle cx="395.5" cy="1347.2" r="4.25"/>
<circle cx="340.4" cy="1362.1" r="4.25"/>
<circle cx="372.1" cy="1362.1" r="4.25"/>
<circle cx="322.5" cy="1380.0" r="4.25"/>
<circle cx="331.5" cy="1396.8" r="4.25"/>
<circle cx="362.7" cy="1393.9" r="4.25"/>
<circle cx="307.2" cy="1404.3" r="4.25"/>
<circle cx="304.7" cy="1413.7" r="4.25"/>
<circle cx="353.3" cy="1417.7" r="4.25"/>
<circle cx="339.4" cy="1462.3" r="4.25"/>
<circle cx="369.2" cy="1478.2" r="4.25"/>
<circle cx="342.4" cy="1488.1" r="4.25"/>
<circle cx="404.9" cy="1495.6" r="4.25"/>
<circle cx="323.5" cy="1501.5" r="4.25"/>
<circle cx="373.6" cy="1508.0" r="4.25"/>
<circle cx="324.5" cy="1532.3" r="4.25"/>
<circle cx="385.0" cy="1541.7" r="4.25"/>
<circle cx="384.5" cy="1567.5" r="4.25"/>
<circle cx="371.2" cy="1581.9" r="4.25"/>
<circle cx="390.5" cy="1600.2" r="4.25"/>
<circle cx="319.6" cy="1604.7" r="4.25"/>
<circle cx="337.4" cy="1612.6" r="4.25"/>
<circle cx="364.7" cy="1607.7" r="4.25"/>
</g>
<line x1="493.0" y1="1251.5" x2="493.0" y2="1278.4" stroke="#333333" stroke-width="2.3" />
<line x1="493.0" y1="1597.6" x2="493.0" y2="1634.9" stroke="#333333" stroke-width="2.3" />
<rect x="442.1" y="1278.4" width="101.7" height="319.3" fill="#868686" stroke="#333333" stroke-width="2.2" />
<line x1="442.1" y1="1560.5" x2="543.9" y2="1560.5" stroke="#333333" stroke-width="5" />
<g fill="#868686" stroke="#000" stroke-width="1.6">
<circle cx="513.5" cy="1253.0" r="4.25"/>
<circle cx="531.4" cy="1265.4" r="4.25"/>
<circle cx="521.9" cy="1273.3" r="4.25"/>
<circle cx="457.5" cy="1295.7" r="4.25"/>
<circle cx="509.5" cy="1545.2" r="4.25"/>
<circle cx="491.2" cy="1577.9" r="4.25"/>
<circle cx="542.3" cy="1579.4" r="4.25"/>
<circle cx="471.3" cy="1603.7" r="4.25"/>
<circle cx="480.3" cy="1603.7" r="4.25"/>
<circle cx="508.6" cy="1634.9" r="4.25"/>
</g>
<line x1="628.6" y1="1540.8" x2="628.6" y2="1570.3" stroke="#333333" stroke-width="2.3" />
<line x1="628.6" y1="1609.5" x2="628.6" y2="1635.4" stroke="#333333" stroke-width="2.3" />
<rect x="577.7" y="1570.3" width="101.7" height="39.1" fill="#0073C2" stroke="#333333" stroke-width="2.2" />
<line x1="577.7" y1="1592.8" x2="679.4" y2="1592.8" stroke="#333333" stroke-width="5" />
<g fill="#0073C2" stroke="#000" stroke-width="1.6">
<circle cx="587.4" cy="1323.4" r="4.25"/>
<circle cx="614.7" cy="1324.4" r="4.25"/>
<circle cx="620.7" cy="1330.4" r="4.25"/>
<circle cx="595.4" cy="1336.8" r="4.25"/>
<circle cx="677.7" cy="1317.5" r="4.25"/>
<circle cx="666.3" cy="1341.8" r="4.25"/>
<circle cx="658.8" cy="1347.2" r="4.25"/>
<circle cx="680.2" cy="1352.7" r="4.25"/>
<circle cx="579.5" cy="1353.7" r="4.25"/>
<circle cx="583.0" cy="1354.2" r="4.25"/>
<circle cx="593.4" cy="1350.7" r="4.25"/>
<circle cx="599.3" cy="1352.2" r="4.25"/>
<circle cx="600.8" cy="1362.6" r="4.25"/>
<circle cx="607.8" cy="1367.1" r="4.25"/>
<circle cx="618.7" cy="1360.6" r="4.25"/>
<circle cx="634.0" cy="1354.7" r="4.25"/>
<circle cx="644.0" cy="1378.0" r="4.25"/>
<circle cx="600.3" cy="1398.8" r="4.25"/>
<circle cx="662.8" cy="1406.8" r="4.25"/>
<circle cx="631.4" cy="1594.4" r="4.25"/>
<circle cx="661.6" cy="1579.4" r="4.25"/>
<circle cx="665.3" cy="1605.0" r="4.25"/>
<circle cx="671.7" cy="1602.1" r="4.25"/>
<circle cx="610.0" cy="1617.9" r="4.25"/>
<circle cx="629.7" cy="1615.0" r="4.25"/>
<circle cx="606.9" cy="1593.2" r="4.25"/>
<circle cx="655.1" cy="1586.4" r="4.25"/>
<circle cx="588.9" cy="1619.5" r="4.25"/>
<circle cx="605.1" cy="1596.0" r="4.25"/>
<circle cx="661.1" cy="1584.1" r="4.25"/>
<circle cx="670.2" cy="1594.2" r="4.25"/>
<circle cx="641.7" cy="1608.4" r="4.25"/>
<circle cx="610.7" cy="1612.5" r="4.25"/>
<circle cx="632.0" cy="1593.3" r="4.25"/>
<circle cx="635.6" cy="1603.6" r="4.25"/>
<circle cx="621.3" cy="1610.5" r="4.25"/>
<circle cx="658.9" cy="1594.6" r="4.25"/>
<circle cx="652.5" cy="1583.6" r="4.25"/>
<circle cx="607.6" cy="1616.8" r="4.25"/>
<circle cx="607.8" cy="1579.0" r="4.25"/>
<circle cx="656.6" cy="1603.0" r="4.25"/>
<circle cx="655.2" cy="1606.0" r="4.25"/>
<circle cx="663.7" cy="1618.1" r="4.25"/>
<circle cx="651.7" cy="1575.5" r="4.25"/>
<circle cx="620.9" cy="1600.3" r="4.25"/>
<circle cx="593.2" cy="1609.2" r="4.25"/>
<circle cx="603.0" cy="1608.2" r="4.25"/>
<circle cx="587.2" cy="1608.1" r="4.25"/>
<circle cx="590.6" cy="1597.3" r="4.25"/>
<circle cx="619.6" cy="1611.5" r="4.25"/>
<circle cx="671.1" cy="1607.6" r="4.25"/>
<circle cx="631.6" cy="1579.6" r="4.25"/>
<circle cx="653.4" cy="1576.2" r="4.25"/>
<circle cx="639.1" cy="1580.7" r="4.25"/>
<circle cx="586.8" cy="1587.3" r="4.25"/>
<circle cx="612.9" cy="1607.1" r="4.25"/>
<circle cx="654.5" cy="1586.9" r="4.25"/>
<circle cx="613.4" cy="1605.0" r="4.25"/>
<circle cx="607.3" cy="1577.7" r="4.25"/>
<circle cx="639.6" cy="1610.0" r="4.25"/>
<circle cx="631.7" cy="1619.6" r="4.25"/>
<circle cx="606.5" cy="1598.4" r="4.25"/>
<circle cx="674.0" cy="1581.3" r="4.25"/>
<circle cx="633.2" cy="1585.9" r="4.25"/>
<circle cx="604.8" cy="1589.2" r="4.25"/>
<circle cx="676.2" cy="1615.0" r="4.25"/>
<circle cx="670.1" cy="1575.2" r="4.25"/>
<circle cx="615.9" cy="1583.4" r="4.25"/>
<circle cx="675.5" cy="1615.3" r="4.25"/>
<circle cx="574.6" cy="1545.8" r="4.25"/>
<circle cx="591.9" cy="1540.2" r="4.25"/>
<circle cx="603.4" cy="1541.3" r="4.25"/>
<circle cx="608.4" cy="1551.0" r="4.25"/>
<circle cx="592.2" cy="1551.4" r="4.25"/>
<circle cx="595.6" cy="1560.3" r="4.25"/>
<circle cx="679.3" cy="1544.4" r="4.25"/>
<circle cx="667.4" cy="1553.7" r="4.25"/>
<circle cx="634.2" cy="1554.1" r="4.25"/>
<circle cx="649.3" cy="1554.1" r="4.25"/>
<circle cx="653.0" cy="1559.7" r="4.25"/>
<circle cx="642.5" cy="1557.2" r="4.25"/>
<circle cx="623.2" cy="1560.9" r="4.25"/>
<circle cx="641.2" cy="1562.8" r="4.25"/>
<circle cx="634.4" cy="1560.9" r="4.25"/>
<circle cx="577.4" cy="1557.2" r="4.25"/>
<circle cx="580.5" cy="1560.3" r="4.25"/>
<circle cx="582.9" cy="1562.2" r="4.25"/>
<circle cx="576.1" cy="1567.7" r="4.25"/>
<circle cx="614.6" cy="1566.9" r="4.25"/>
<circle cx="621.4" cy="1566.5" r="4.25"/>
<circle cx="627.0" cy="1573.3" r="4.25"/>
<circle cx="630.7" cy="1573.9" r="4.25"/>
<circle cx="638.1" cy="1573.3" r="4.25"/>
<circle cx="646.2" cy="1570.2" r="4.25"/>
<circle cx="654.2" cy="1568.4" r="4.25"/>
<circle cx="659.2" cy="1567.1" r="4.25"/>
<circle cx="664.8" cy="1563.4" r="4.25"/>
<circle cx="670.4" cy="1569.0" r="4.25"/>
<circle cx="591.0" cy="1570.2" r="4.25"/>
<circle cx="599.7" cy="1573.3" r="4.25"/>
<circle cx="604.6" cy="1572.7" r="4.25"/>
<circle cx="577.4" cy="1574.6" r="4.25"/>
<circle cx="586.0" cy="1579.5" r="4.25"/>
<circle cx="592.9" cy="1577.0" r="4.25"/>
<circle cx="579.8" cy="1583.9" r="4.25"/>
<circle cx="574.9" cy="1584.5" r="4.25"/>
<circle cx="594.1" cy="1587.0" r="4.25"/>
<circle cx="605.3" cy="1582.0" r="4.25"/>
<circle cx="613.3" cy="1585.7" r="4.25"/>
<circle cx="616.4" cy="1583.2" r="4.25"/>
<circle cx="622.6" cy="1590.7" r="4.25"/>
<circle cx="631.3" cy="1586.3" r="4.25"/>
<circle cx="638.1" cy="1591.3" r="4.25"/>
<circle cx="643.1" cy="1579.5" r="4.25"/>
<circle cx="647.4" cy="1587.0" r="4.25"/>
<circle cx="650.5" cy="1593.2" r="4.25"/>
<circle cx="654.9" cy="1580.8" r="4.25"/>
<circle cx="659.8" cy="1581.4" r="4.25"/>
<circle cx="664.2" cy="1578.3" r="4.25"/>
<circle cx="673.5" cy="1583.2" r="4.25"/>
<circle cx="679.7" cy="1578.3" r="4.25"/>
<circle cx="679.0" cy="1584.5" r="4.25"/>
<circle cx="578.6" cy="1592.5" r="4.25"/>
<circle cx="583.6" cy="1596.3" r="4.25"/>
<circle cx="593.5" cy="1593.2" r="4.25"/>
<circle cx="604.6" cy="1591.3" r="4.25"/>
<circle cx="601.5" cy="1595.6" r="4.25"/>
<circle cx="614.6" cy="1595.0" r="4.25"/>
<circle cx="622.0" cy="1598.7" r="4.25"/>
<circle cx="628.8" cy="1603.7" r="4.25"/>
<circle cx="635.6" cy="1600.6" r="4.25"/>
<circle cx="641.8" cy="1596.9" r="4.25"/>
<circle cx="654.2" cy="1601.2" r="4.25"/>
<circle cx="658.6" cy="1604.9" r="4.25"/>
<circle cx="662.9" cy="1593.8" r="4.25"/>
<circle cx="665.4" cy="1600.6" r="4.25"/>
<circle cx="669.7" cy="1596.3" r="4.25"/>
<circle cx="677.8" cy="1597.5" r="4.25"/>
<circle cx="575.5" cy="1604.9" r="4.25"/>
<circle cx="589.1" cy="1602.5" r="4.25"/>
<circle cx="596.0" cy="1605.6" r="4.25"/>
<circle cx="603.4" cy="1604.3" r="4.25"/>
<circle cx="610.8" cy="1609.3" r="4.25"/>
<circle cx="618.9" cy="1606.2" r="4.25"/>
<circle cx="624.5" cy="1609.9" r="4.25"/>
<circle cx="629.4" cy="1604.3" r="4.25"/>
<circle cx="638.7" cy="1609.9" r="4.25"/>
<circle cx="645.6" cy="1612.4" r="4.25"/>
<circle cx="646.8" cy="1606.8" r="4.25"/>
<circle cx="658.0" cy="1609.3" r="4.25"/>
<circle cx="669.1" cy="1615.5" r="4.25"/>
<circle cx="674.7" cy="1610.5" r="4.25"/>
<circle cx="679.7" cy="1608.7" r="4.25"/>
<circle cx="579.2" cy="1613.0" r="4.25"/>
<circle cx="587.3" cy="1616.1" r="4.25"/>
<circle cx="595.3" cy="1614.2" r="4.25"/>
<circle cx="600.9" cy="1611.1" r="4.25"/>
<circle cx="608.4" cy="1619.2" r="4.25"/>
<circle cx="613.9" cy="1617.3" r="4.25"/>
<circle cx="623.2" cy="1614.2" r="4.25"/>
<circle cx="630.1" cy="1615.5" r="4.25"/>
<circle cx="635.6" cy="1619.2" r="4.25"/>
<circle cx="645.6" cy="1619.2" r="4.25"/>
<circle cx="662.9" cy="1620.4" r="4.25"/>
<circle cx="676.6" cy="1616.7" r="4.25"/>
<circle cx="574.9" cy="1620.4" r="4.25"/>
<circle cx="581.7" cy="1623.5" r="4.25"/>
<circle cx="576.7" cy="1629.7" r="4.25"/>
<circle cx="589.1" cy="1629.1" r="4.25"/>
<circle cx="607.1" cy="1621.7" r="4.25"/>
<circle cx="615.2" cy="1629.7" r="4.25"/>
<circle cx="621.4" cy="1626.6" r="4.25"/>
<circle cx="631.3" cy="1629.7" r="4.25"/>
<circle cx="633.2" cy="1622.9" r="4.25"/>
<circle cx="647.4" cy="1624.2" r="4.25"/>
<circle cx="648.7" cy="1630.4" r="4.25"/>
<circle cx="662.9" cy="1634.1" r="4.25"/>
<circle cx="664.2" cy="1629.7" r="4.25"/>
<circle cx="671.6" cy="1630.4" r="4.25"/>
<circle cx="679.0" cy="1629.1" r="4.25"/>
<circle cx="681.5" cy="1623.5" r="4.25"/>
</g>
<line x1="764.2" y1="1260.8" x2="764.2" y2="1360.2" stroke="#333333" stroke-width="2.3" />
<line x1="764.2" y1="1506.6" x2="764.2" y2="1614.0" stroke="#333333" stroke-width="2.3" />
<rect x="713.4" y="1360.2" width="101.7" height="146.4" fill="#CD534C" stroke="#333333" stroke-width="2.2" />
<line x1="713.4" y1="1418.2" x2="815.1" y2="1418.2" stroke="#333333" stroke-width="5" />
<g fill="#CD534C" stroke="#000" stroke-width="1.6">
<circle cx="809.2" cy="1257.7" r="4.25"/>
<circle cx="730.8" cy="1270.1" r="4.25"/>
<circle cx="734.0" cy="1276.1" r="4.25"/>
<circle cx="737.2" cy="1283.5" r="4.25"/>
<circle cx="752.9" cy="1275.3" r="4.25"/>
<circle cx="712.2" cy="1286.5" r="4.25"/>
<circle cx="719.7" cy="1297.4" r="4.25"/>
<circle cx="743.5" cy="1298.4" r="4.25"/>
<circle cx="748.4" cy="1292.4" r="4.25"/>
<circle cx="767.0" cy="1293.2" r="4.25"/>
<circle cx="777.7" cy="1272.3" r="4.25"/>
<circle cx="779.7" cy="1285.7" r="4.25"/>
<circle cx="787.1" cy="1283.5" r="4.25"/>
<circle cx="777.7" cy="1296.5" r="4.25"/>
<circle cx="780.4" cy="1298.4" r="4.25"/>
<circle cx="782.7" cy="1306.3" r="4.25"/>
<circle cx="777.7" cy="1311.8" r="4.25"/>
<circle cx="806.9" cy="1279.0" r="4.25"/>
<circle cx="727.6" cy="1323.0" r="4.25"/>
<circle cx="764.8" cy="1331.2" r="4.25"/>
<circle cx="730.5" cy="1337.1" r="4.25"/>
<circle cx="731.3" cy="1345.3" r="4.25"/>
<circle cx="738.7" cy="1345.3" r="4.25"/>
<circle cx="731.6" cy="1351.3" r="4.25"/>
<circle cx="745.9" cy="1351.3" r="4.25"/>
<circle cx="753.6" cy="1352.8" r="4.25"/>
<circle cx="760.3" cy="1353.5" r="4.25"/>
<circle cx="760.3" cy="1359.0" r="4.25"/>
<circle cx="729.8" cy="1360.2" r="4.25"/>
<circle cx="738.0" cy="1359.0" r="4.25"/>
<circle cx="727.1" cy="1366.9" r="4.25"/>
<circle cx="710.1" cy="1366.2" r="4.25"/>
<circle cx="781.9" cy="1348.0" r="4.25"/>
<circle cx="796.1" cy="1356.2" r="4.25"/>
<circle cx="802.0" cy="1357.2" r="4.25"/>
<circle cx="817.3" cy="1333.1" r="4.25"/>
<circle cx="813.9" cy="1338.6" r="4.25"/>
<circle cx="808.0" cy="1342.6" r="4.25"/>
<circle cx="812.4" cy="1346.8" r="4.25"/>
<circle cx="810.9" cy="1353.8" r="4.25"/>
<circle cx="722.6" cy="1379.9" r="4.25"/>
<circle cx="732.0" cy="1383.3" r="4.25"/>
<circle cx="739.5" cy="1369.1" r="4.25"/>
<circle cx="736.5" cy="1373.6" r="4.25"/>
<circle cx="742.9" cy="1377.3" r="4.25"/>
<circle cx="749.1" cy="1370.6" r="4.25"/>
<circle cx="748.4" cy="1376.3" r="4.25"/>
<circle cx="726.1" cy="1388.5" r="4.25"/>
<circle cx="721.6" cy="1391.5" r="4.25"/>
<circle cx="734.7" cy="1387.8" r="4.25"/>
<circle cx="753.3" cy="1388.5" r="4.25"/>
<circle cx="760.3" cy="1381.0" r="4.25"/>
<circle cx="763.3" cy="1384.8" r="4.25"/>
<circle cx="719.4" cy="1404.9" r="4.25"/>
<circle cx="724.6" cy="1400.4" r="4.25"/>
<circle cx="724.6" cy="1403.4" r="4.25"/>
<circle cx="736.5" cy="1403.4" r="4.25"/>
<circle cx="741.7" cy="1398.9" r="4.25"/>
<circle cx="737.2" cy="1414.6" r="4.25"/>
<circle cx="741.0" cy="1413.1" r="4.25"/>
<circle cx="711.6" cy="1416.0" r="4.25"/>
<circle cx="729.0" cy="1420.5" r="4.25"/>
<circle cx="743.9" cy="1422.7" r="4.25"/>
<circle cx="762.2" cy="1419.8" r="4.25"/>
<circle cx="780.4" cy="1370.6" r="4.25"/>
<circle cx="787.9" cy="1363.2" r="4.25"/>
<circle cx="787.9" cy="1367.6" r="4.25"/>
<circle cx="784.1" cy="1377.8" r="4.25"/>
<circle cx="777.7" cy="1385.8" r="4.25"/>
<circle cx="784.9" cy="1395.2" r="4.25"/>
<circle cx="784.1" cy="1398.2" r="4.25"/>
<circle cx="788.6" cy="1405.6" r="4.25"/>
<circle cx="782.7" cy="1412.6" r="4.25"/>
<circle cx="788.6" cy="1412.3" r="4.25"/>
<circle cx="806.5" cy="1369.1" r="4.25"/>
<circle cx="808.7" cy="1374.3" r="4.25"/>
<circle cx="807.2" cy="1384.0" r="4.25"/>
<circle cx="816.9" cy="1382.5" r="4.25"/>
<circle cx="815.4" cy="1401.2" r="4.25"/>
<circle cx="816.2" cy="1404.9" r="4.25"/>
<circle cx="815.4" cy="1417.5" r="4.25"/>
<circle cx="726.8" cy="1430.2" r="4.25"/>
<circle cx="721.6" cy="1435.4" r="4.25"/>
<circle cx="751.4" cy="1439.9" r="4.25"/>
<circle cx="753.6" cy="1442.9" r="4.25"/>
<circle cx="762.2" cy="1435.4" r="4.25"/>
<circle cx="770.7" cy="1430.2" r="4.25"/>
<circle cx="771.2" cy="1448.8" r="4.25"/>
<circle cx="741.0" cy="1451.8" r="4.25"/>
<circle cx="746.2" cy="1458.5" r="4.25"/>
<circle cx="750.6" cy="1457.0" r="4.25"/>
<circle cx="745.9" cy="1463.7" r="4.25"/>
<circle cx="761.1" cy="1461.5" r="4.25"/>
<circle cx="764.0" cy="1460.0" r="4.25"/>
<circle cx="771.2" cy="1462.2" r="4.25"/>
<circle cx="755.8" cy="1473.4" r="4.25"/>
<circle cx="762.5" cy="1473.4" r="4.25"/>
<circle cx="731.3" cy="1470.4" r="4.25"/>
<circle cx="733.5" cy="1478.6" r="4.25"/>
<circle cx="716.4" cy="1483.1" r="4.25"/>
<circle cx="714.9" cy="1485.3" r="4.25"/>
<circle cx="723.8" cy="1491.3" r="4.25"/>
<circle cx="807.2" cy="1428.7" r="4.25"/>
<circle cx="810.2" cy="1435.4" r="4.25"/>
<circle cx="813.9" cy="1436.2" r="4.25"/>
<circle cx="816.9" cy="1444.3" r="4.25"/>
<circle cx="817.6" cy="1449.6" r="4.25"/>
<circle cx="815.4" cy="1457.7" r="4.25"/>
<circle cx="810.9" cy="1466.7" r="4.25"/>
<circle cx="802.8" cy="1471.1" r="4.25"/>
<circle cx="802.8" cy="1473.4" r="4.25"/>
<circle cx="796.1" cy="1450.3" r="4.25"/>
<circle cx="798.3" cy="1445.8" r="4.25"/>
<circle cx="743.2" cy="1506.9" r="4.25"/>
<circle cx="749.1" cy="1503.2" r="4.25"/>
<circle cx="762.5" cy="1502.4" r="4.25"/>
<circle cx="769.2" cy="1510.6" r="4.25"/>
<circle cx="791.6" cy="1509.9" r="4.25"/>
<circle cx="728.0" cy="1517.3" r="4.25"/>
<circle cx="742.4" cy="1517.3" r="4.25"/>
<circle cx="758.8" cy="1523.3" r="4.25"/>
<circle cx="765.5" cy="1525.5" r="4.25"/>
<circle cx="767.8" cy="1524.8" r="4.25"/>
<circle cx="718.6" cy="1529.2" r="4.25"/>
<circle cx="720.1" cy="1533.7" r="4.25"/>
<circle cx="720.8" cy="1538.2" r="4.25"/>
<circle cx="746.2" cy="1531.5" r="4.25"/>
<circle cx="747.4" cy="1539.7" r="4.25"/>
<circle cx="732.0" cy="1545.6" r="4.25"/>
<circle cx="739.5" cy="1552.3" r="4.25"/>
<circle cx="738.7" cy="1555.3" r="4.25"/>
<circle cx="721.6" cy="1556.8" r="4.25"/>
<circle cx="731.3" cy="1557.5" r="4.25"/>
<circle cx="724.6" cy="1562.7" r="4.25"/>
<circle cx="729.8" cy="1563.5" r="4.25"/>
<circle cx="755.1" cy="1556.8" r="4.25"/>
<circle cx="757.3" cy="1567.2" r="4.25"/>
<circle cx="778.9" cy="1556.8" r="4.25"/>
<circle cx="790.1" cy="1545.6" r="4.25"/>
<circle cx="790.1" cy="1566.5" r="4.25"/>
<circle cx="800.5" cy="1533.7" r="4.25"/>
<circle cx="805.7" cy="1538.2" r="4.25"/>
<circle cx="812.9" cy="1536.7" r="4.25"/>
<circle cx="807.2" cy="1551.6" r="4.25"/>
<circle cx="814.7" cy="1558.3" r="4.25"/>
<circle cx="805.0" cy="1559.8" r="4.25"/>
<circle cx="738.0" cy="1574.6" r="4.25"/>
<circle cx="739.5" cy="1577.6" r="4.25"/>
<circle cx="769.2" cy="1573.9" r="4.25"/>
<circle cx="778.2" cy="1577.6" r="4.25"/>
<circle cx="800.5" cy="1579.9" r="4.25"/>
<circle cx="798.3" cy="1585.8" r="4.25"/>
<circle cx="802.8" cy="1592.5" r="4.25"/>
<circle cx="742.4" cy="1588.8" r="4.25"/>
<circle cx="732.0" cy="1597.7" r="4.25"/>
<circle cx="727.3" cy="1613.4" r="4.25"/>
</g>
<line x1="899.8" y1="1271.9" x2="899.8" y2="1359.9" stroke="#333333" stroke-width="2.3" />
<line x1="899.8" y1="1495.6" x2="899.8" y2="1593.7" stroke="#333333" stroke-width="2.3" />
<rect x="848.9" y="1359.9" width="101.7" height="135.7" fill="#EFC000" stroke="#333333" stroke-width="2.2" />
<line x1="848.9" y1="1415.5" x2="950.6" y2="1415.5" stroke="#333333" stroke-width="5" />
<g fill="#EFC000" stroke="#000" stroke-width="1.6">
<circle cx="858.1" cy="1270.1" r="4.25"/>
<circle cx="939.5" cy="1287.2" r="4.25"/>
<circle cx="892.3" cy="1293.9" r="4.25"/>
<circle cx="898.3" cy="1292.4" r="4.25"/>
<circle cx="913.2" cy="1296.2" r="4.25"/>
<circle cx="846.6" cy="1312.8" r="4.25"/>
<circle cx="874.9" cy="1314.8" r="4.25"/>
<circle cx="870.7" cy="1321.5" r="4.25"/>
<circle cx="873.4" cy="1322.7" r="4.25"/>
<circle cx="889.4" cy="1317.0" r="4.25"/>
<circle cx="893.4" cy="1325.9" r="4.25"/>
<circle cx="913.6" cy="1317.8" r="4.25"/>
<circle cx="929.1" cy="1308.1" r="4.25"/>
<circle cx="937.8" cy="1305.8" r="4.25"/>
<circle cx="940.0" cy="1316.3" r="4.25"/>
<circle cx="938.5" cy="1322.2" r="4.25"/>
<circle cx="934.8" cy="1328.9" r="4.25"/>
<circle cx="951.5" cy="1316.3" r="4.25"/>
<circle cx="953.4" cy="1323.7" r="4.25"/>
<circle cx="857.3" cy="1327.4" r="4.25"/>
<circle cx="868.1" cy="1333.4" r="4.25"/>
<circle cx="873.0" cy="1333.4" r="4.25"/>
<circle cx="864.0" cy="1339.4" r="4.25"/>
<circle cx="860.3" cy="1340.8" r="4.25"/>
<circle cx="860.3" cy="1345.3" r="4.25"/>
<circle cx="860.3" cy="1352.5" r="4.25"/>
<circle cx="916.2" cy="1341.6" r="4.25"/>
<circle cx="919.1" cy="1344.6" r="4.25"/>
<circle cx="927.0" cy="1340.1" r="4.25"/>
<circle cx="924.4" cy="1347.5" r="4.25"/>
<circle cx="947.0" cy="1350.1" r="4.25"/>
<circle cx="893.1" cy="1350.5" r="4.25"/>
<circle cx="898.3" cy="1352.0" r="4.25"/>
<circle cx="893.8" cy="1354.2" r="4.25"/>
<circle cx="908.7" cy="1352.8" r="4.25"/>
<circle cx="908.0" cy="1355.7" r="4.25"/>
<circle cx="922.9" cy="1356.5" r="4.25"/>
<circle cx="874.5" cy="1360.9" r="4.25"/>
<circle cx="877.4" cy="1363.2" r="4.25"/>
<circle cx="885.6" cy="1358.7" r="4.25"/>
<circle cx="890.1" cy="1364.4" r="4.25"/>
<circle cx="896.1" cy="1363.2" r="4.25"/>
<circle cx="916.9" cy="1361.7" r="4.25"/>
<circle cx="923.6" cy="1364.7" r="4.25"/>
<circle cx="922.9" cy="1367.6" r="4.25"/>
<circle cx="912.4" cy="1367.6" r="4.25"/>
<circle cx="931.8" cy="1369.9" r="4.25"/>
<circle cx="935.5" cy="1372.1" r="4.25"/>
<circle cx="941.5" cy="1369.9" r="4.25"/>
<circle cx="944.9" cy="1362.4" r="4.25"/>
<circle cx="860.3" cy="1367.6" r="4.25"/>
<circle cx="849.9" cy="1376.9" r="4.25"/>
<circle cx="862.6" cy="1374.3" r="4.25"/>
<circle cx="867.0" cy="1378.1" r="4.25"/>
<circle cx="877.4" cy="1381.8" r="4.25"/>
<circle cx="882.7" cy="1377.3" r="4.25"/>
<circle cx="889.4" cy="1386.3" r="4.25"/>
<circle cx="848.1" cy="1390.7" r="4.25"/>
<circle cx="860.3" cy="1389.2" r="4.25"/>
<circle cx="866.3" cy="1390.7" r="4.25"/>
<circle cx="874.5" cy="1391.5" r="4.25"/>
<circle cx="860.3" cy="1395.9" r="4.25"/>
<circle cx="871.5" cy="1393.7" r="4.25"/>
<circle cx="928.8" cy="1376.6" r="4.25"/>
<circle cx="949.7" cy="1380.3" r="4.25"/>
<circle cx="925.1" cy="1392.2" r="4.25"/>
<circle cx="931.8" cy="1388.5" r="4.25"/>
<circle cx="930.3" cy="1393.7" r="4.25"/>
<circle cx="850.6" cy="1410.1" r="4.25"/>
<circle cx="857.0" cy="1407.1" r="4.25"/>
<circle cx="861.8" cy="1413.8" r="4.25"/>
<circle cx="882.4" cy="1409.3" r="4.25"/>
<circle cx="893.1" cy="1410.8" r="4.25"/>
<circle cx="908.3" cy="1410.8" r="4.25"/>
<circle cx="951.9" cy="1403.4" r="4.25"/>
<circle cx="953.4" cy="1410.1" r="4.25"/>
<circle cx="847.2" cy="1423.5" r="4.25"/>
<circle cx="882.4" cy="1420.5" r="4.25"/>
<circle cx="896.1" cy="1419.0" r="4.25"/>
<circle cx="899.0" cy="1421.3" r="4.25"/>
<circle cx="913.2" cy="1419.0" r="4.25"/>
<circle cx="916.2" cy="1422.7" r="4.25"/>
<circle cx="919.1" cy="1421.3" r="4.25"/>
<circle cx="929.6" cy="1419.0" r="4.25"/>
<circle cx="928.1" cy="1427.2" r="4.25"/>
<circle cx="874.9" cy="1427.2" r="4.25"/>
<circle cx="876.7" cy="1428.7" r="4.25"/>
<circle cx="874.5" cy="1433.9" r="4.25"/>
<circle cx="902.0" cy="1434.7" r="4.25"/>
<circle cx="928.1" cy="1436.2" r="4.25"/>
<circle cx="952.6" cy="1430.9" r="4.25"/>
<circle cx="948.2" cy="1438.4" r="4.25"/>
<circle cx="857.3" cy="1439.9" r="4.25"/>
<circle cx="855.1" cy="1448.1" r="4.25"/>
<circle cx="861.5" cy="1448.1" r="4.25"/>
<circle cx="868.5" cy="1445.8" r="4.25"/>
<circle cx="886.4" cy="1438.4" r="4.25"/>
<circle cx="885.3" cy="1442.9" r="4.25"/>
<circle cx="884.1" cy="1451.8" r="4.25"/>
<circle cx="878.2" cy="1454.8" r="4.25"/>
<circle cx="918.4" cy="1442.1" r="4.25"/>
<circle cx="925.1" cy="1443.6" r="4.25"/>
<circle cx="927.3" cy="1447.3" r="4.25"/>
<circle cx="939.2" cy="1450.3" r="4.25"/>
<circle cx="846.9" cy="1450.3" r="4.25"/>
<circle cx="847.2" cy="1457.7" r="4.25"/>
<circle cx="862.6" cy="1463.7" r="4.25"/>
<circle cx="884.1" cy="1469.7" r="4.25"/>
<circle cx="901.7" cy="1465.2" r="4.25"/>
<circle cx="952.6" cy="1460.0" r="4.25"/>
<circle cx="848.4" cy="1490.5" r="4.25"/>
<circle cx="852.1" cy="1490.5" r="4.25"/>
<circle cx="857.0" cy="1498.7" r="4.25"/>
<circle cx="897.5" cy="1489.0" r="4.25"/>
<circle cx="898.3" cy="1491.3" r="4.25"/>
<circle cx="893.8" cy="1498.0" r="4.25"/>
<circle cx="902.8" cy="1503.2" r="4.25"/>
<circle cx="893.1" cy="1508.4" r="4.25"/>
<circle cx="912.4" cy="1509.9" r="4.25"/>
<circle cx="868.5" cy="1514.3" r="4.25"/>
<circle cx="855.8" cy="1527.7" r="4.25"/>
<circle cx="859.6" cy="1525.5" r="4.25"/>
<circle cx="860.3" cy="1526.2" r="4.25"/>
<circle cx="886.8" cy="1532.2" r="4.25"/>
<circle cx="888.6" cy="1540.4" r="4.25"/>
<circle cx="874.5" cy="1544.1" r="4.25"/>
<circle cx="877.4" cy="1545.6" r="4.25"/>
<circle cx="916.9" cy="1535.9" r="4.25"/>
<circle cx="919.1" cy="1541.9" r="4.25"/>
<circle cx="925.8" cy="1544.9" r="4.25"/>
<circle cx="931.8" cy="1541.1" r="4.25"/>
<circle cx="928.1" cy="1527.7" r="4.25"/>
<circle cx="933.3" cy="1524.8" r="4.25"/>
<circle cx="942.2" cy="1524.8" r="4.25"/>
<circle cx="901.7" cy="1549.3" r="4.25"/>
<circle cx="937.0" cy="1553.8" r="4.25"/>
<circle cx="951.9" cy="1559.0" r="4.25"/>
<circle cx="859.6" cy="1550.1" r="4.25"/>
<circle cx="855.1" cy="1556.0" r="4.25"/>
<circle cx="859.6" cy="1560.5" r="4.25"/>
<circle cx="849.1" cy="1566.5" r="4.25"/>
<circle cx="884.1" cy="1567.2" r="4.25"/>
<circle cx="911.7" cy="1560.5" r="4.25"/>
<circle cx="917.7" cy="1564.2" r="4.25"/>
<circle cx="938.5" cy="1565.0" r="4.25"/>
<circle cx="909.5" cy="1570.9" r="4.25"/>
<circle cx="884.9" cy="1580.6" r="4.25"/>
<circle cx="903.2" cy="1579.1" r="4.25"/>
<circle cx="924.1" cy="1580.6" r="4.25"/>
<circle cx="928.8" cy="1576.1" r="4.25"/>
<circle cx="936.0" cy="1580.6" r="4.25"/>
<circle cx="952.6" cy="1582.8" r="4.25"/>
<circle cx="942.2" cy="1591.0" r="4.25"/>
</g>
<line x1="1035.4" y1="1269.2" x2="1035.4" y2="1345.8" stroke="#333333" stroke-width="2.3" />
<line x1="1035.4" y1="1406.0" x2="1035.4" y2="1484.5" stroke="#333333" stroke-width="2.3" />
<rect x="984.5" y="1345.8" width="101.7" height="60.2" fill="#868686" stroke="#333333" stroke-width="2.2" />
<line x1="984.5" y1="1367.9" x2="1086.2" y2="1367.9" stroke="#333333" stroke-width="5" />
<g fill="#868686" stroke="#000" stroke-width="1.6">
<circle cx="1015.4" cy="1214.5" r="4.25"/>
<circle cx="1027.2" cy="1232.2" r="4.25"/>
<circle cx="1074.4" cy="1237.9" r="4.25"/>
<circle cx="986.9" cy="1266.8" r="4.25"/>
<circle cx="1050.5" cy="1309.5" r="4.25"/>
<circle cx="1088.4" cy="1306.3" r="4.25"/>
<circle cx="1088.9" cy="1311.1" r="4.25"/>
<circle cx="1084.4" cy="1317.6" r="4.25"/>
<circle cx="1062.6" cy="1323.2" r="4.25"/>
<circle cx="1063.4" cy="1326.4" r="4.25"/>
<circle cx="1027.2" cy="1328.9" r="4.25"/>
<circle cx="1036.4" cy="1329.7" r="4.25"/>
<circle cx="1005.4" cy="1325.3" r="4.25"/>
<circle cx="1000.6" cy="1328.9" r="4.25"/>
<circle cx="991.3" cy="1334.0" r="4.25"/>
<circle cx="998.2" cy="1337.7" r="4.25"/>
<circle cx="1008.7" cy="1335.6" r="4.25"/>
<circle cx="1014.3" cy="1337.7" r="4.25"/>
<circle cx="1016.7" cy="1339.3" r="4.25"/>
<circle cx="995.8" cy="1345.0" r="4.25"/>
<circle cx="999.0" cy="1348.2" r="4.25"/>
<circle cx="1009.5" cy="1345.8" r="4.25"/>
<circle cx="1023.2" cy="1344.2" r="4.25"/>
<circle cx="1029.6" cy="1345.0" r="4.25"/>
<circle cx="1032.0" cy="1344.2" r="4.25"/>
<circle cx="1057.0" cy="1340.1" r="4.25"/>
<circle cx="1064.2" cy="1340.1" r="4.25"/>
<circle cx="1042.2" cy="1349.0" r="4.25"/>
<circle cx="981.6" cy="1351.4" r="4.25"/>
<circle cx="987.7" cy="1352.2" r="4.25"/>
<circle cx="1006.2" cy="1355.4" r="4.25"/>
<circle cx="1016.7" cy="1352.2" r="4.25"/>
<circle cx="1019.1" cy="1353.0" r="4.25"/>
<circle cx="1024.8" cy="1353.0" r="4.25"/>
<circle cx="1037.3" cy="1356.2" r="4.25"/>
<circle cx="1045.7" cy="1361.9" r="4.25"/>
<circle cx="1052.2" cy="1361.1" r="4.25"/>
<circle cx="1055.4" cy="1360.3" r="4.25"/>
<circle cx="1051.3" cy="1363.5" r="4.25"/>
<circle cx="1079.9" cy="1359.1" r="4.25"/>
<circle cx="1088.9" cy="1359.1" r="4.25"/>
<circle cx="999.0" cy="1361.9" r="4.25"/>
<circle cx="1001.4" cy="1359.5" r="4.25"/>
<circle cx="986.9" cy="1364.3" r="4.25"/>
<circle cx="983.7" cy="1367.5" r="4.25"/>
<circle cx="1021.5" cy="1367.5" r="4.25"/>
<circle cx="1017.5" cy="1371.6" r="4.25"/>
<circle cx="1030.4" cy="1370.7" r="4.25"/>
<circle cx="1030.9" cy="1371.6" r="4.25"/>
<circle cx="1071.5" cy="1372.0" r="4.25"/>
<circle cx="989.3" cy="1376.4" r="4.25"/>
<circle cx="992.6" cy="1374.0" r="4.25"/>
<circle cx="986.1" cy="1386.9" r="4.25"/>
<circle cx="998.2" cy="1392.5" r="4.25"/>
<circle cx="1027.2" cy="1385.2" r="4.25"/>
<circle cx="1035.2" cy="1383.6" r="4.25"/>
<circle cx="1051.8" cy="1382.0" r="4.25"/>
<circle cx="1039.3" cy="1392.5" r="4.25"/>
<circle cx="1033.1" cy="1396.5" r="4.25"/>
<circle cx="1045.7" cy="1401.4" r="4.25"/>
<circle cx="1056.2" cy="1400.5" r="4.25"/>
<circle cx="1062.6" cy="1397.3" r="4.25"/>
<circle cx="1077.1" cy="1400.5" r="4.25"/>
<circle cx="1081.1" cy="1394.9" r="4.25"/>
<circle cx="1086.0" cy="1386.9" r="4.25"/>
<circle cx="1087.6" cy="1389.3" r="4.25"/>
<circle cx="984.2" cy="1406.2" r="4.25"/>
<circle cx="1003.0" cy="1407.0" r="4.25"/>
<circle cx="1003.8" cy="1404.6" r="4.25"/>
<circle cx="1015.1" cy="1407.0" r="4.25"/>
<circle cx="1019.1" cy="1414.2" r="4.25"/>
<circle cx="1024.0" cy="1419.9" r="4.25"/>
<circle cx="1089.2" cy="1408.6" r="4.25"/>
<circle cx="1050.5" cy="1419.1" r="4.25"/>
<circle cx="1066.3" cy="1414.2" r="4.25"/>
<circle cx="1064.7" cy="1424.7" r="4.25"/>
<circle cx="1080.8" cy="1422.3" r="4.25"/>
<circle cx="1087.6" cy="1426.3" r="4.25"/>
<circle cx="1088.4" cy="1432.0" r="4.25"/>
<circle cx="1019.1" cy="1430.3" r="4.25"/>
<circle cx="1020.7" cy="1437.6" r="4.25"/>
<circle cx="982.1" cy="1442.4" r="4.25"/>
<circle cx="984.8" cy="1456.1" r="4.25"/>
<circle cx="1018.0" cy="1448.9" r="4.25"/>
<circle cx="1040.1" cy="1442.4" r="4.25"/>
<circle cx="1072.3" cy="1446.5" r="4.25"/>
<circle cx="1027.7" cy="1462.6" r="4.25"/>
<circle cx="1028.0" cy="1465.0" r="4.25"/>
<circle cx="1030.9" cy="1479.5" r="4.25"/>
<circle cx="1062.6" cy="1482.7" r="4.25"/>
<circle cx="1073.1" cy="1502.8" r="4.25"/>
<circle cx="1071.2" cy="1585.8" r="4.25"/>
</g>
<rect x="140.8" y="1192.6" width="975.6" height="463.6" fill="none" stroke="#afafaf" stroke-width="1.8" />
<line x1="134.3" y1="1639.3" x2="140.8" y2="1639.3" stroke="#b3b3b3" stroke-width="1.6" />
<text x="129.8" y="1646.4" font-size="19.4" fill="#4d4d4d" text-anchor="end">0</text>
<line x1="134.3" y1="1498.5" x2="140.8" y2="1498.5" stroke="#b3b3b3" stroke-width="1.6" />
<text x="129.8" y="1505.6" font-size="19.4" fill="#4d4d4d" text-anchor="end">10</text>
<line x1="134.3" y1="1357.8" x2="140.8" y2="1357.8" stroke="#b3b3b3" stroke-width="1.6" />
<text x="129.8" y="1364.9" font-size="19.4" fill="#4d4d4d" text-anchor="end">20</text>
<line x1="134.3" y1="1217.0" x2="140.8" y2="1217.0" stroke="#b3b3b3" stroke-width="1.6" />
<text x="129.8" y="1224.1" font-size="19.4" fill="#4d4d4d" text-anchor="end">30</text>
<line x1="221.8" y1="1656.2" x2="221.8" y2="1662.4" stroke="#b3b3b3" stroke-width="1.6" />
<text x="0.0" y="0.0" font-size="21.4" fill="#4d4d4d" font-weight="bold" text-anchor="end" transform="translate(232.3,1677.2) rotate(-45)">solid</text>
<line x1="357.4" y1="1656.2" x2="357.4" y2="1662.4" stroke="#b3b3b3" stroke-width="1.6" />
<text x="0.0" y="0.0" font-size="21.4" fill="#4d4d4d" font-weight="bold" text-anchor="end" transform="translate(367.9,1677.2) rotate(-45)">liquid</text>
<line x1="493.0" y1="1656.2" x2="493.0" y2="1662.4" stroke="#b3b3b3" stroke-width="1.6" />
<text x="0.0" y="0.0" font-size="21.4" fill="#4d4d4d" font-weight="bold" text-anchor="end" transform="translate(503.5,1677.2) rotate(-45)">SCFM</text>
<line x1="628.6" y1="1656.2" x2="628.6" y2="1662.4" stroke="#b3b3b3" stroke-width="1.6" />
<text x="0.0" y="0.0" font-size="21.4" fill="#4d4d4d" font-weight="bold" text-anchor="end" transform="translate(639.1,1677.2) rotate(-45)">sputum</text>
<line x1="764.2" y1="1656.2" x2="764.2" y2="1662.4" stroke="#b3b3b3" stroke-width="1.6" />
<text x="0.0" y="0.0" font-size="21.4" fill="#4d4d4d" font-weight="bold" text-anchor="end" transform="translate(774.7,1677.2) rotate(-45)">sputum vs. solid</text>
<line x1="899.8" y1="1656.2" x2="899.8" y2="1662.4" stroke="#b3b3b3" stroke-width="1.6" />
<text x="0.0" y="0.0" font-size="21.4" fill="#4d4d4d" font-weight="bold" text-anchor="end" transform="translate(910.3,1677.2) rotate(-45)">sputum vs. liquid</text>
<line x1="1035.4" y1="1656.2" x2="1035.4" y2="1662.4" stroke="#b3b3b3" stroke-width="1.6" />
<text x="0.0" y="0.0" font-size="21.4" fill="#4d4d4d" font-weight="bold" text-anchor="end" transform="translate(1045.9,1677.2) rotate(-45)">sputum vs. SCFM</text>
<text x="0.0" y="0.0" font-size="24.5" fill="#000" text-anchor="middle" textLength="205.8" lengthAdjust="spacingAndGlyphs" transform="translate(98.0,1424.6) rotate(-90)">Euclidean distance</text>
<text x="144.7" y="1228.8" font-size="30.5" fill="#000" font-style="italic" textLength="324.0" lengthAdjust="spacingAndGlyphs">Phage receptor genes</text>
<text x="602.6" y="1220.0" font-size="22.5" fill="#000" font-weight="bold" textLength="170.8" lengthAdjust="spacingAndGlyphs">P=E-45 (MW)</text>
<line x1="558.1" y1="1227.2" x2="815.0" y2="1227.2" stroke="#000" stroke-width="3.7" />
<text x="938.4" y="1632.6" font-size="22.5" fill="#000" font-weight="bold" textLength="166.0" lengthAdjust="spacingAndGlyphs">P=E-06 (KW)</text>
<text x="-0.2" y="1245.0" font-size="53.5" fill="#000" font-weight="bold" textLength="35.0" lengthAdjust="spacingAndGlyphs">C</text>
<rect x="125.5" y="1817.4" width="569.1" height="41.4" fill="#f4f4f4" stroke="none" stroke-width="0" />
<rect x="694.6" y="1817.4" width="428.4" height="39.6" fill="#f4f4f4" stroke="none" stroke-width="0" />
<rect x="692.2" y="1817.4" width="4.8" height="44.2" fill="#bababa" stroke="none" stroke-width="0" />
<text x="174.4" y="1850.7" font-size="41" fill="#000" textLength="466.1" lengthAdjust="spacingAndGlyphs">distances within cluster</text>
<text x="722.4" y="1850.7" font-size="41" fill="#000" textLength="379.7" lengthAdjust="spacingAndGlyphs">distance to sputum</text>
<line x1="134.6" y1="2262.9" x2="1116.6" y2="2262.9" stroke="#e6e6e6" stroke-width="1.3" />
<line x1="134.6" y1="2173.1" x2="1116.6" y2="2173.1" stroke="#e6e6e6" stroke-width="1.3" />
<line x1="134.6" y1="2083.2" x2="1116.6" y2="2083.2" stroke="#e6e6e6" stroke-width="1.3" />
<line x1="134.6" y1="1993.4" x2="1116.6" y2="1993.4" stroke="#e6e6e6" stroke-width="1.3" />
<line x1="134.6" y1="1903.6" x2="1116.6" y2="1903.6" stroke="#e6e6e6" stroke-width="1.3" />
<line x1="134.6" y1="2307.8" x2="1116.6" y2="2307.8" stroke="#e1e1e1" stroke-width="1.6" />
<line x1="134.6" y1="2218.0" x2="1116.6" y2="2218.0" stroke="#e1e1e1" stroke-width="1.6" />
<line x1="134.6" y1="2128.2" x2="1116.6" y2="2128.2" stroke="#e1e1e1" stroke-width="1.6" />
<line x1="134.6" y1="2038.3" x2="1116.6" y2="2038.3" stroke="#e1e1e1" stroke-width="1.6" />
<line x1="134.6" y1="1948.5" x2="1116.6" y2="1948.5" stroke="#e1e1e1" stroke-width="1.6" />
<line x1="693.6" y1="1865.6" x2="693.6" y2="2331.5" stroke="#bababa" stroke-width="2.6" />
<line x1="215.8" y1="1981.7" x2="215.8" y2="2098.9" stroke="#333333" stroke-width="2.3" />
<line x1="215.8" y1="2264.3" x2="215.8" y2="2282.6" stroke="#333333" stroke-width="2.3" />
<rect x="164.7" y="2098.9" width="102.3" height="165.5" fill="#CD534C" stroke="#333333" stroke-width="2.2" />
<line x1="164.7" y1="2231.6" x2="267.0" y2="2231.6" stroke="#333333" stroke-width="5" />
<g fill="#CD534C" stroke="#000" stroke-width="1.6">
<circle cx="201.2" cy="1984.2" r="4.25"/>
<circle cx="199.7" cy="2002.4" r="4.25"/>
<circle cx="225.4" cy="2003.9" r="4.25"/>
<circle cx="169.4" cy="2026.6" r="4.25"/>
<circle cx="245.6" cy="2031.7" r="4.25"/>
<circle cx="193.1" cy="2064.0" r="4.25"/>
<circle cx="202.7" cy="2080.1" r="4.25"/>
<circle cx="199.7" cy="2101.8" r="4.25"/>
<circle cx="270.4" cy="2105.4" r="4.25"/>
<circle cx="269.3" cy="2122.0" r="4.25"/>
<circle cx="167.4" cy="2133.1" r="4.25"/>
<circle cx="188.1" cy="2166.5" r="4.25"/>
<circle cx="237.0" cy="2209.4" r="4.25"/>
<circle cx="224.9" cy="2221.0" r="4.25"/>
<circle cx="180.5" cy="2240.7" r="4.25"/>
<circle cx="165.3" cy="2246.7" r="4.25"/>
<circle cx="162.8" cy="2252.3" r="4.25"/>
<circle cx="191.6" cy="2256.3" r="4.25"/>
<circle cx="214.3" cy="2261.4" r="4.25"/>
<circle cx="169.4" cy="2263.9" r="4.25"/>
<circle cx="170.4" cy="2268.9" r="4.25"/>
<circle cx="263.8" cy="2273.0" r="4.25"/>
<circle cx="179.0" cy="2279.0" r="4.25"/>
<circle cx="212.8" cy="2279.0" r="4.25"/>
<circle cx="168.4" cy="2282.6" r="4.25"/>
<circle cx="162.3" cy="2286.1" r="4.25"/>
<circle cx="249.7" cy="2283.6" r="4.25"/>
</g>
<line x1="352.2" y1="2222.5" x2="352.2" y2="2222.5" stroke="#333333" stroke-width="2.3" />
<line x1="352.2" y1="2294.7" x2="352.2" y2="2306.7" stroke="#333333" stroke-width="2.3" />
<rect x="301.1" y="2222.5" width="102.3" height="72.2" fill="#EFC000" stroke="#333333" stroke-width="2.2" />
<line x1="301.1" y1="2274.9" x2="403.4" y2="2274.9" stroke="#333333" stroke-width="5" />
<g fill="#EFC000" stroke="#000" stroke-width="1.6">
<circle cx="317.8" cy="2083.7" r="4.25"/>
<circle cx="340.0" cy="2073.6" r="4.25"/>
<circle cx="345.1" cy="2079.6" r="4.25"/>
<circle cx="350.1" cy="2058.4" r="4.25"/>
<circle cx="360.7" cy="2064.5" r="4.25"/>
<circle cx="365.8" cy="2069.5" r="4.25"/>
<circle cx="398.1" cy="2060.9" r="4.25"/>
<circle cx="314.8" cy="2270.0" r="4.25"/>
<circle cx="324.9" cy="2270.0" r="4.25"/>
<circle cx="331.4" cy="2266.9" r="4.25"/>
<circle cx="342.6" cy="2270.5" r="4.25"/>
<circle cx="338.5" cy="2276.5" r="4.25"/>
<circle cx="326.9" cy="2282.6" r="4.25"/>
<circle cx="301.2" cy="2280.6" r="4.25"/>
<circle cx="302.7" cy="2293.2" r="4.25"/>
<circle cx="310.2" cy="2293.2" r="4.25"/>
<circle cx="301.2" cy="2299.2" r="4.25"/>
<circle cx="298.6" cy="2310.3" r="4.25"/>
<circle cx="343.1" cy="2289.1" r="4.25"/>
<circle cx="359.7" cy="2295.2" r="4.25"/>
<circle cx="371.3" cy="2289.6" r="4.25"/>
<circle cx="372.3" cy="2303.3" r="4.25"/>
<circle cx="336.0" cy="2305.3" r="4.25"/>
<circle cx="381.9" cy="2271.5" r="4.25"/>
<circle cx="393.0" cy="2268.9" r="4.25"/>
<circle cx="400.6" cy="2272.5" r="4.25"/>
<circle cx="397.6" cy="2291.7" r="4.25"/>
<circle cx="374.9" cy="2304.3" r="4.25"/>
</g>
<line x1="488.6" y1="2249.2" x2="488.6" y2="2267.9" stroke="#333333" stroke-width="2.3" />
<line x1="488.6" y1="2289.7" x2="488.6" y2="2300.3" stroke="#333333" stroke-width="2.3" />
<rect x="437.5" y="2267.9" width="102.3" height="21.7" fill="#868686" stroke="#333333" stroke-width="2.2" />
<line x1="437.5" y1="2279.4" x2="539.8" y2="2279.4" stroke="#333333" stroke-width="5" />
<g fill="#868686" stroke="#000" stroke-width="1.6">
<circle cx="464.7" cy="2252.3" r="4.25"/>
<circle cx="491.5" cy="2263.4" r="4.25"/>
<circle cx="523.8" cy="2254.8" r="4.25"/>
<circle cx="527.8" cy="2246.2" r="4.25"/>
<circle cx="465.7" cy="2274.0" r="4.25"/>
<circle cx="468.3" cy="2275.0" r="4.25"/>
<circle cx="475.3" cy="2279.5" r="4.25"/>
<circle cx="440.5" cy="2279.0" r="4.25"/>
<circle cx="441.5" cy="2287.6" r="4.25"/>
<circle cx="447.6" cy="2289.6" r="4.25"/>
<circle cx="456.1" cy="2298.7" r="4.25"/>
<circle cx="514.7" cy="2293.7" r="4.25"/>
<circle cx="517.2" cy="2300.8" r="4.25"/>
<circle cx="530.4" cy="2286.6" r="4.25"/>
</g>
<line x1="625.0" y1="1951.9" x2="625.0" y2="2122.0" stroke="#333333" stroke-width="2.3" />
<line x1="625.0" y1="2247.3" x2="625.0" y2="2304.0" stroke="#333333" stroke-width="2.3" />
<rect x="573.9" y="2122.0" width="102.3" height="125.2" fill="#0073C2" stroke="#333333" stroke-width="2.2" />
<line x1="573.9" y1="2144.1" x2="676.1" y2="2144.1" stroke="#333333" stroke-width="5" />
<g fill="#0073C2" stroke="#000" stroke-width="1.6">
<circle cx="674.9" cy="1948.3" r="4.25"/>
<circle cx="598.5" cy="1986.5" r="4.25"/>
<circle cx="625.1" cy="1985.0" r="4.25"/>
<circle cx="631.7" cy="1986.5" r="4.25"/>
<circle cx="648.5" cy="1986.8" r="4.25"/>
<circle cx="660.9" cy="1984.1" r="4.25"/>
<circle cx="667.4" cy="1982.3" r="4.25"/>
<circle cx="619.4" cy="2013.2" r="4.25"/>
<circle cx="606.1" cy="2019.3" r="4.25"/>
<circle cx="579.6" cy="2035.1" r="4.25"/>
<circle cx="631.1" cy="2060.8" r="4.25"/>
<circle cx="619.4" cy="2069.5" r="4.25"/>
<circle cx="622.4" cy="2070.2" r="4.25"/>
<circle cx="615.3" cy="2083.9" r="4.25"/>
<circle cx="574.1" cy="2078.5" r="4.25"/>
<circle cx="590.2" cy="2078.9" r="4.25"/>
<circle cx="651.4" cy="2069.1" r="4.25"/>
<circle cx="657.9" cy="2074.4" r="4.25"/>
<circle cx="655.3" cy="2076.6" r="4.25"/>
<circle cx="664.7" cy="2072.9" r="4.25"/>
<circle cx="668.9" cy="2066.5" r="4.25"/>
<circle cx="667.7" cy="2079.7" r="4.25"/>
<circle cx="671.4" cy="2078.2" r="4.25"/>
<circle cx="677.9" cy="2089.2" r="4.25"/>
<circle cx="652.6" cy="2091.7" r="4.25"/>
<circle cx="644.7" cy="2103.1" r="4.25"/>
<circle cx="676.0" cy="2100.0" r="4.25"/>
<circle cx="573.3" cy="2109.1" r="4.25"/>
<circle cx="571.3" cy="2115.1" r="4.25"/>
<circle cx="587.6" cy="2112.9" r="4.25"/>
<circle cx="588.4" cy="2115.9" r="4.25"/>
<circle cx="584.3" cy="2118.9" r="4.25"/>
<circle cx="586.9" cy="2124.2" r="4.25"/>
<circle cx="595.2" cy="2118.9" r="4.25"/>
<circle cx="600.5" cy="2122.7" r="4.25"/>
<circle cx="604.3" cy="2117.4" r="4.25"/>
<circle cx="572.5" cy="2131.0" r="4.25"/>
<circle cx="579.3" cy="2135.5" r="4.25"/>
<circle cx="579.8" cy="2142.3" r="4.25"/>
<circle cx="573.3" cy="2149.9" r="4.25"/>
<circle cx="582.4" cy="2149.1" r="4.25"/>
<circle cx="585.4" cy="2142.3" r="4.25"/>
<circle cx="592.2" cy="2135.5" r="4.25"/>
<circle cx="596.7" cy="2132.5" r="4.25"/>
<circle cx="596.0" cy="2146.9" r="4.25"/>
<circle cx="606.5" cy="2137.8" r="4.25"/>
<circle cx="609.5" cy="2140.8" r="4.25"/>
<circle cx="606.5" cy="2145.3" r="4.25"/>
<circle cx="613.3" cy="2149.9" r="4.25"/>
<circle cx="615.6" cy="2129.5" r="4.25"/>
<circle cx="621.6" cy="2139.3" r="4.25"/>
<circle cx="620.9" cy="2128.0" r="4.25"/>
<circle cx="628.1" cy="2110.6" r="4.25"/>
<circle cx="627.7" cy="2121.2" r="4.25"/>
<circle cx="628.4" cy="2130.2" r="4.25"/>
<circle cx="628.4" cy="2146.1" r="4.25"/>
<circle cx="634.5" cy="2118.9" r="4.25"/>
<circle cx="633.7" cy="2147.6" r="4.25"/>
<circle cx="637.5" cy="2131.8" r="4.25"/>
<circle cx="642.0" cy="2139.3" r="4.25"/>
<circle cx="642.8" cy="2121.9" r="4.25"/>
<circle cx="643.5" cy="2150.6" r="4.25"/>
<circle cx="647.3" cy="2148.4" r="4.25"/>
<circle cx="648.8" cy="2130.2" r="4.25"/>
<circle cx="651.8" cy="2138.6" r="4.25"/>
<circle cx="655.6" cy="2110.6" r="4.25"/>
<circle cx="660.1" cy="2112.1" r="4.25"/>
<circle cx="660.9" cy="2124.2" r="4.25"/>
<circle cx="660.1" cy="2133.3" r="4.25"/>
<circle cx="664.7" cy="2122.7" r="4.25"/>
<circle cx="669.2" cy="2118.9" r="4.25"/>
<circle cx="669.2" cy="2128.7" r="4.25"/>
<circle cx="675.2" cy="2113.6" r="4.25"/>
<circle cx="678.5" cy="2128.0" r="4.25"/>
<circle cx="678.5" cy="2146.9" r="4.25"/>
<circle cx="679.0" cy="2156.7" r="4.25"/>
<circle cx="585.4" cy="2161.2" r="4.25"/>
<circle cx="593.7" cy="2166.5" r="4.25"/>
<circle cx="602.0" cy="2168.7" r="4.25"/>
<circle cx="592.2" cy="2170.3" r="4.25"/>
<circle cx="608.8" cy="2158.9" r="4.25"/>
<circle cx="612.6" cy="2163.5" r="4.25"/>
<circle cx="621.6" cy="2156.7" r="4.25"/>
<circle cx="616.3" cy="2171.8" r="4.25"/>
<circle cx="623.1" cy="2170.3" r="4.25"/>
<circle cx="583.9" cy="2179.3" r="4.25"/>
<circle cx="596.0" cy="2180.1" r="4.25"/>
<circle cx="617.1" cy="2180.1" r="4.25"/>
<circle cx="626.2" cy="2177.1" r="4.25"/>
<circle cx="654.8" cy="2157.4" r="4.25"/>
<circle cx="655.6" cy="2165.0" r="4.25"/>
<circle cx="663.1" cy="2168.0" r="4.25"/>
<circle cx="671.4" cy="2168.0" r="4.25"/>
<circle cx="657.9" cy="2180.1" r="4.25"/>
<circle cx="667.7" cy="2176.3" r="4.25"/>
<circle cx="659.4" cy="2179.3" r="4.25"/>
<circle cx="586.1" cy="2233.7" r="4.25"/>
<circle cx="575.9" cy="2243.5" r="4.25"/>
<circle cx="642.0" cy="2244.2" r="4.25"/>
<circle cx="661.6" cy="2237.4" r="4.25"/>
<circle cx="665.9" cy="2235.2" r="4.25"/>
<circle cx="668.9" cy="2243.5" r="4.25"/>
<circle cx="673.0" cy="2241.2" r="4.25"/>
<circle cx="581.6" cy="2251.0" r="4.25"/>
<circle cx="601.2" cy="2251.8" r="4.25"/>
<circle cx="604.3" cy="2251.8" r="4.25"/>
<circle cx="616.3" cy="2254.1" r="4.25"/>
<circle cx="654.1" cy="2250.3" r="4.25"/>
<circle cx="655.6" cy="2253.3" r="4.25"/>
<circle cx="670.7" cy="2253.3" r="4.25"/>
<circle cx="626.9" cy="2261.6" r="4.25"/>
<circle cx="660.9" cy="2260.1" r="4.25"/>
<circle cx="578.6" cy="2263.1" r="4.25"/>
<circle cx="572.5" cy="2268.4" r="4.25"/>
<circle cx="581.6" cy="2273.7" r="4.25"/>
<circle cx="584.6" cy="2270.7" r="4.25"/>
<circle cx="598.2" cy="2268.4" r="4.25"/>
<circle cx="614.1" cy="2267.6" r="4.25"/>
<circle cx="646.5" cy="2267.6" r="4.25"/>
<circle cx="659.4" cy="2268.4" r="4.25"/>
<circle cx="620.9" cy="2277.5" r="4.25"/>
<circle cx="607.3" cy="2279.7" r="4.25"/>
<circle cx="609.5" cy="2288.8" r="4.25"/>
<circle cx="674.5" cy="2286.5" r="4.25"/>
<circle cx="574.1" cy="2290.3" r="4.25"/>
<circle cx="574.8" cy="2293.3" r="4.25"/>
<circle cx="578.6" cy="2296.3" r="4.25"/>
<circle cx="571.8" cy="2301.6" r="4.25"/>
<circle cx="577.8" cy="2303.1" r="4.25"/>
<circle cx="586.9" cy="2305.4" r="4.25"/>
<circle cx="589.9" cy="2303.9" r="4.25"/>
<circle cx="596.7" cy="2308.4" r="4.25"/>
<circle cx="601.2" cy="2300.1" r="4.25"/>
<circle cx="607.3" cy="2305.4" r="4.25"/>
<circle cx="627.7" cy="2296.3" r="4.25"/>
<circle cx="624.6" cy="2306.1" r="4.25"/>
<circle cx="631.4" cy="2308.4" r="4.25"/>
<circle cx="635.2" cy="2306.9" r="4.25"/>
<circle cx="638.2" cy="2291.0" r="4.25"/>
<circle cx="642.8" cy="2301.6" r="4.25"/>
<circle cx="648.8" cy="2291.8" r="4.25"/>
<circle cx="654.1" cy="2305.4" r="4.25"/>
<circle cx="661.6" cy="2302.4" r="4.25"/>
<circle cx="679.0" cy="2301.6" r="4.25"/>
</g>
<line x1="761.4" y1="1920.7" x2="761.4" y2="2003.5" stroke="#333333" stroke-width="2.3" />
<line x1="761.4" y1="2147.0" x2="761.4" y2="2298.3" stroke="#333333" stroke-width="2.3" />
<rect x="710.3" y="2003.5" width="102.3" height="143.5" fill="#CD534C" stroke="#333333" stroke-width="2.2" />
<line x1="710.3" y1="2054.0" x2="812.6" y2="2054.0" stroke="#333333" stroke-width="5" />
<g fill="#CD534C" stroke="#000" stroke-width="1.6">
<circle cx="727.1" cy="1922.1" r="4.25"/>
<circle cx="788.6" cy="1947.4" r="4.25"/>
<circle cx="810.8" cy="1949.0" r="4.25"/>
<circle cx="739.9" cy="1952.7" r="4.25"/>
<circle cx="749.6" cy="1957.5" r="4.25"/>
<circle cx="762.8" cy="1958.0" r="4.25"/>
<circle cx="767.7" cy="1961.2" r="4.25"/>
<circle cx="794.7" cy="1956.4" r="4.25"/>
<circle cx="798.3" cy="1956.7" r="4.25"/>
<circle cx="807.6" cy="1961.5" r="4.25"/>
<circle cx="716.9" cy="1962.4" r="4.25"/>
<circle cx="720.1" cy="1959.9" r="4.25"/>
<circle cx="775.7" cy="1968.0" r="4.25"/>
<circle cx="779.7" cy="1971.5" r="4.25"/>
<circle cx="789.9" cy="1978.9" r="4.25"/>
<circle cx="812.8" cy="1982.8" r="4.25"/>
<circle cx="749.6" cy="1975.2" r="4.25"/>
<circle cx="767.3" cy="1977.7" r="4.25"/>
<circle cx="715.3" cy="1983.8" r="4.25"/>
<circle cx="720.9" cy="1987.3" r="4.25"/>
<circle cx="725.8" cy="1980.1" r="4.25"/>
<circle cx="729.8" cy="1978.5" r="4.25"/>
<circle cx="733.0" cy="1982.8" r="4.25"/>
<circle cx="739.5" cy="1980.1" r="4.25"/>
<circle cx="741.9" cy="1983.8" r="4.25"/>
<circle cx="751.2" cy="1984.9" r="4.25"/>
<circle cx="753.2" cy="1985.7" r="4.25"/>
<circle cx="762.0" cy="1988.6" r="4.25"/>
<circle cx="767.7" cy="1987.3" r="4.25"/>
<circle cx="782.2" cy="1983.3" r="4.25"/>
<circle cx="730.9" cy="1992.2" r="4.25"/>
<circle cx="742.2" cy="1992.5" r="4.25"/>
<circle cx="738.7" cy="2000.2" r="4.25"/>
<circle cx="743.5" cy="1999.4" r="4.25"/>
<circle cx="764.4" cy="1998.3" r="4.25"/>
<circle cx="761.2" cy="2003.1" r="4.25"/>
<circle cx="752.4" cy="2005.0" r="4.25"/>
<circle cx="791.8" cy="1998.6" r="4.25"/>
<circle cx="812.4" cy="2002.1" r="4.25"/>
<circle cx="713.2" cy="2004.2" r="4.25"/>
<circle cx="710.0" cy="2008.3" r="4.25"/>
<circle cx="731.4" cy="2012.3" r="4.25"/>
<circle cx="737.0" cy="2012.3" r="4.25"/>
<circle cx="738.7" cy="2016.3" r="4.25"/>
<circle cx="745.9" cy="2013.1" r="4.25"/>
<circle cx="752.4" cy="2005.8" r="4.25"/>
<circle cx="754.8" cy="2017.1" r="4.25"/>
<circle cx="761.2" cy="2017.1" r="4.25"/>
<circle cx="770.9" cy="2010.7" r="4.25"/>
<circle cx="787.8" cy="2017.1" r="4.25"/>
<circle cx="791.0" cy="2013.9" r="4.25"/>
<circle cx="794.2" cy="2015.5" r="4.25"/>
<circle cx="798.3" cy="2008.3" r="4.25"/>
<circle cx="806.3" cy="2007.5" r="4.25"/>
<circle cx="809.2" cy="2013.1" r="4.25"/>
<circle cx="787.0" cy="2022.8" r="4.25"/>
<circle cx="810.8" cy="2026.0" r="4.25"/>
<circle cx="812.4" cy="2026.8" r="4.25"/>
<circle cx="711.6" cy="2024.0" r="4.25"/>
<circle cx="749.6" cy="2028.4" r="4.25"/>
<circle cx="758.8" cy="2030.8" r="4.25"/>
<circle cx="769.3" cy="2035.6" r="4.25"/>
<circle cx="788.3" cy="2033.7" r="4.25"/>
<circle cx="728.2" cy="2034.4" r="4.25"/>
<circle cx="716.9" cy="2038.1" r="4.25"/>
<circle cx="720.9" cy="2042.4" r="4.25"/>
<circle cx="706.8" cy="2047.7" r="4.25"/>
<circle cx="711.0" cy="2052.1" r="4.25"/>
<circle cx="745.1" cy="2046.9" r="4.25"/>
<circle cx="754.8" cy="2043.4" r="4.25"/>
<circle cx="783.4" cy="2041.8" r="4.25"/>
<circle cx="787.8" cy="2047.7" r="4.25"/>
<circle cx="801.2" cy="2043.4" r="4.25"/>
<circle cx="814.4" cy="2043.4" r="4.25"/>
<circle cx="814.7" cy="2048.5" r="4.25"/>
<circle cx="804.7" cy="2054.2" r="4.25"/>
<circle cx="768.5" cy="2051.4" r="4.25"/>
<circle cx="734.6" cy="2065.4" r="4.25"/>
<circle cx="754.8" cy="2060.1" r="4.25"/>
<circle cx="754.8" cy="2070.8" r="4.25"/>
<circle cx="765.2" cy="2069.5" r="4.25"/>
<circle cx="771.7" cy="2063.8" r="4.25"/>
<circle cx="771.7" cy="2070.3" r="4.25"/>
<circle cx="775.7" cy="2078.3" r="4.25"/>
<circle cx="783.8" cy="2082.7" r="4.25"/>
<circle cx="791.0" cy="2075.6" r="4.25"/>
<circle cx="795.0" cy="2087.5" r="4.25"/>
<circle cx="807.1" cy="2074.0" r="4.25"/>
<circle cx="739.5" cy="2080.4" r="4.25"/>
<circle cx="709.7" cy="2088.5" r="4.25"/>
<circle cx="708.4" cy="2108.5" r="4.25"/>
<circle cx="729.3" cy="2102.5" r="4.25"/>
<circle cx="780.2" cy="2103.0" r="4.25"/>
<circle cx="783.8" cy="2115.9" r="4.25"/>
<circle cx="797.5" cy="2118.1" r="4.25"/>
<circle cx="777.0" cy="2125.0" r="4.25"/>
<circle cx="781.8" cy="2125.0" r="4.25"/>
<circle cx="793.1" cy="2125.9" r="4.25"/>
<circle cx="728.2" cy="2129.4" r="4.25"/>
<circle cx="739.5" cy="2124.2" r="4.25"/>
<circle cx="742.2" cy="2128.8" r="4.25"/>
<circle cx="741.9" cy="2133.1" r="4.25"/>
<circle cx="802.3" cy="2133.1" r="4.25"/>
<circle cx="809.2" cy="2133.9" r="4.25"/>
<circle cx="721.7" cy="2143.2" r="4.25"/>
<circle cx="727.4" cy="2142.0" r="4.25"/>
<circle cx="727.1" cy="2146.8" r="4.25"/>
<circle cx="735.8" cy="2143.2" r="4.25"/>
<circle cx="748.3" cy="2142.0" r="4.25"/>
<circle cx="751.2" cy="2144.9" r="4.25"/>
<circle cx="757.7" cy="2142.8" r="4.25"/>
<circle cx="778.9" cy="2140.0" r="4.25"/>
<circle cx="812.4" cy="2144.9" r="4.25"/>
<circle cx="737.4" cy="2153.2" r="4.25"/>
<circle cx="748.0" cy="2151.6" r="4.25"/>
<circle cx="743.5" cy="2160.0" r="4.25"/>
<circle cx="778.9" cy="2151.6" r="4.25"/>
<circle cx="788.6" cy="2154.8" r="4.25"/>
<circle cx="796.6" cy="2154.5" r="4.25"/>
<circle cx="756.4" cy="2164.2" r="4.25"/>
<circle cx="760.4" cy="2174.2" r="4.25"/>
<circle cx="719.7" cy="2170.1" r="4.25"/>
<circle cx="799.1" cy="2172.2" r="4.25"/>
<circle cx="711.6" cy="2183.8" r="4.25"/>
<circle cx="729.3" cy="2183.5" r="4.25"/>
<circle cx="738.7" cy="2180.9" r="4.25"/>
<circle cx="745.4" cy="2188.7" r="4.25"/>
<circle cx="774.4" cy="2182.6" r="4.25"/>
<circle cx="788.6" cy="2186.7" r="4.25"/>
<circle cx="795.0" cy="2180.6" r="4.25"/>
<circle cx="799.9" cy="2183.8" r="4.25"/>
<circle cx="813.6" cy="2189.5" r="4.25"/>
<circle cx="795.8" cy="2199.1" r="4.25"/>
<circle cx="780.5" cy="2202.4" r="4.25"/>
<circle cx="785.1" cy="2203.2" r="4.25"/>
<circle cx="776.5" cy="2221.7" r="4.25"/>
<circle cx="779.7" cy="2228.9" r="4.25"/>
<circle cx="789.4" cy="2224.9" r="4.25"/>
<circle cx="760.4" cy="2237.0" r="4.25"/>
<circle cx="803.4" cy="2239.9" r="4.25"/>
<circle cx="811.5" cy="2248.3" r="4.25"/>
<circle cx="710.0" cy="2262.0" r="4.25"/>
<circle cx="712.6" cy="2261.2" r="4.25"/>
<circle cx="728.7" cy="2274.9" r="4.25"/>
<circle cx="737.9" cy="2288.9" r="4.25"/>
<circle cx="716.9" cy="2295.8" r="4.25"/>
<circle cx="758.8" cy="2282.4" r="4.25"/>
<circle cx="762.5" cy="2285.3" r="4.25"/>
<circle cx="785.1" cy="2285.3" r="4.25"/>
<circle cx="793.1" cy="2286.1" r="4.25"/>
<circle cx="814.0" cy="2286.9" r="4.25"/>
<circle cx="816.3" cy="2283.7" r="4.25"/>
</g>
<line x1="897.8" y1="1950.7" x2="897.8" y2="1996.1" stroke="#333333" stroke-width="2.3" />
<line x1="897.8" y1="2145.0" x2="897.8" y2="2270.3" stroke="#333333" stroke-width="2.3" />
<rect x="846.6" y="1996.1" width="102.3" height="148.9" fill="#EFC000" stroke="#333333" stroke-width="2.2" />
<line x1="846.6" y1="2036.2" x2="948.9" y2="2036.2" stroke="#333333" stroke-width="5" />
<g fill="#EFC000" stroke="#000" stroke-width="1.6">
<circle cx="912.5" cy="1945.9" r="4.25"/>
<circle cx="900.2" cy="1952.0" r="4.25"/>
<circle cx="844.4" cy="1961.9" r="4.25"/>
<circle cx="889.3" cy="1962.6" r="4.25"/>
<circle cx="916.9" cy="1959.7" r="4.25"/>
<circle cx="911.1" cy="1968.8" r="4.25"/>
<circle cx="920.2" cy="1968.8" r="4.25"/>
<circle cx="848.3" cy="1982.2" r="4.25"/>
<circle cx="852.7" cy="1985.8" r="4.25"/>
<circle cx="865.4" cy="1985.8" r="4.25"/>
<circle cx="872.0" cy="1985.1" r="4.25"/>
<circle cx="877.0" cy="1979.3" r="4.25"/>
<circle cx="878.5" cy="1988.7" r="4.25"/>
<circle cx="884.3" cy="1988.0" r="4.25"/>
<circle cx="885.0" cy="1993.8" r="4.25"/>
<circle cx="882.1" cy="1996.7" r="4.25"/>
<circle cx="869.8" cy="1993.0" r="4.25"/>
<circle cx="863.7" cy="1993.8" r="4.25"/>
<circle cx="854.6" cy="1993.8" r="4.25"/>
<circle cx="845.9" cy="1990.9" r="4.25"/>
<circle cx="848.8" cy="1993.8" r="4.25"/>
<circle cx="844.4" cy="2001.7" r="4.25"/>
<circle cx="849.5" cy="2001.0" r="4.25"/>
<circle cx="861.1" cy="2001.0" r="4.25"/>
<circle cx="856.0" cy="2006.8" r="4.25"/>
<circle cx="851.7" cy="2011.9" r="4.25"/>
<circle cx="861.8" cy="2012.6" r="4.25"/>
<circle cx="866.2" cy="2008.3" r="4.25"/>
<circle cx="869.1" cy="2001.7" r="4.25"/>
<circle cx="873.0" cy="2012.6" r="4.25"/>
<circle cx="874.9" cy="2003.2" r="4.25"/>
<circle cx="882.8" cy="2001.0" r="4.25"/>
<circle cx="890.8" cy="1997.4" r="4.25"/>
<circle cx="895.9" cy="1992.6" r="4.25"/>
<circle cx="901.7" cy="1990.9" r="4.25"/>
<circle cx="906.0" cy="1994.5" r="4.25"/>
<circle cx="914.7" cy="1988.7" r="4.25"/>
<circle cx="917.6" cy="1983.6" r="4.25"/>
<circle cx="922.7" cy="1986.5" r="4.25"/>
<circle cx="912.5" cy="2001.0" r="4.25"/>
<circle cx="923.4" cy="1998.8" r="4.25"/>
<circle cx="920.5" cy="2006.8" r="4.25"/>
<circle cx="924.1" cy="2009.0" r="4.25"/>
<circle cx="930.7" cy="1989.4" r="4.25"/>
<circle cx="935.0" cy="1988.0" r="4.25"/>
<circle cx="936.2" cy="1979.0" r="4.25"/>
<circle cx="944.0" cy="1982.2" r="4.25"/>
<circle cx="949.2" cy="1993.0" r="4.25"/>
<circle cx="934.3" cy="1997.4" r="4.25"/>
<circle cx="942.2" cy="2001.0" r="4.25"/>
<circle cx="938.6" cy="2001.0" r="4.25"/>
<circle cx="898.8" cy="2009.7" r="4.25"/>
<circle cx="902.4" cy="2009.0" r="4.25"/>
<circle cx="889.3" cy="2019.1" r="4.25"/>
<circle cx="914.7" cy="2021.6" r="4.25"/>
<circle cx="908.2" cy="2027.1" r="4.25"/>
<circle cx="885.0" cy="2029.3" r="4.25"/>
<circle cx="882.1" cy="2033.6" r="4.25"/>
<circle cx="873.8" cy="2034.1" r="4.25"/>
<circle cx="861.1" cy="2024.9" r="4.25"/>
<circle cx="919.8" cy="2031.4" r="4.25"/>
<circle cx="921.7" cy="2028.6" r="4.25"/>
<circle cx="848.3" cy="2036.5" r="4.25"/>
<circle cx="846.9" cy="2045.9" r="4.25"/>
<circle cx="857.5" cy="2049.6" r="4.25"/>
<circle cx="850.2" cy="2057.5" r="4.25"/>
<circle cx="892.2" cy="2038.7" r="4.25"/>
<circle cx="890.1" cy="2048.1" r="4.25"/>
<circle cx="895.9" cy="2050.3" r="4.25"/>
<circle cx="898.8" cy="2053.2" r="4.25"/>
<circle cx="904.3" cy="2044.8" r="4.25"/>
<circle cx="914.0" cy="2044.5" r="4.25"/>
<circle cx="914.7" cy="2051.0" r="4.25"/>
<circle cx="919.1" cy="2040.1" r="4.25"/>
<circle cx="922.7" cy="2050.3" r="4.25"/>
<circle cx="927.0" cy="2041.6" r="4.25"/>
<circle cx="934.3" cy="2038.0" r="4.25"/>
<circle cx="940.5" cy="2044.5" r="4.25"/>
<circle cx="940.8" cy="2048.1" r="4.25"/>
<circle cx="935.0" cy="2053.9" r="4.25"/>
<circle cx="949.2" cy="2052.5" r="4.25"/>
<circle cx="937.9" cy="2062.6" r="4.25"/>
<circle cx="913.3" cy="2062.2" r="4.25"/>
<circle cx="905.3" cy="2069.1" r="4.25"/>
<circle cx="857.5" cy="2093.0" r="4.25"/>
<circle cx="871.2" cy="2111.9" r="4.25"/>
<circle cx="866.9" cy="2118.1" r="4.25"/>
<circle cx="843.7" cy="2127.8" r="4.25"/>
<circle cx="885.0" cy="2135.1" r="4.25"/>
<circle cx="889.3" cy="2135.8" r="4.25"/>
<circle cx="919.8" cy="2130.7" r="4.25"/>
<circle cx="929.2" cy="2134.3" r="4.25"/>
<circle cx="929.5" cy="2137.2" r="4.25"/>
<circle cx="945.1" cy="2122.0" r="4.25"/>
<circle cx="945.4" cy="2124.2" r="4.25"/>
<circle cx="936.4" cy="2142.8" r="4.25"/>
<circle cx="948.0" cy="2144.5" r="4.25"/>
<circle cx="891.5" cy="2145.9" r="4.25"/>
<circle cx="902.4" cy="2144.5" r="4.25"/>
<circle cx="901.7" cy="2149.6" r="4.25"/>
<circle cx="873.8" cy="2148.8" r="4.25"/>
<circle cx="877.8" cy="2152.5" r="4.25"/>
<circle cx="876.3" cy="2156.8" r="4.25"/>
<circle cx="858.2" cy="2160.4" r="4.25"/>
<circle cx="859.9" cy="2164.8" r="4.25"/>
<circle cx="852.4" cy="2176.4" r="4.25"/>
<circle cx="885.7" cy="2167.7" r="4.25"/>
<circle cx="891.5" cy="2167.0" r="4.25"/>
<circle cx="900.2" cy="2171.7" r="4.25"/>
<circle cx="898.0" cy="2159.0" r="4.25"/>
<circle cx="916.2" cy="2154.6" r="4.25"/>
<circle cx="922.0" cy="2161.2" r="4.25"/>
<circle cx="928.9" cy="2150.3" r="4.25"/>
<circle cx="929.9" cy="2152.5" r="4.25"/>
<circle cx="928.9" cy="2156.1" r="4.25"/>
<circle cx="938.2" cy="2161.2" r="4.25"/>
<circle cx="929.2" cy="2171.7" r="4.25"/>
<circle cx="900.2" cy="2198.8" r="4.25"/>
<circle cx="914.0" cy="2198.8" r="4.25"/>
<circle cx="893.7" cy="2222.8" r="4.25"/>
<circle cx="854.1" cy="2236.5" r="4.25"/>
<circle cx="879.6" cy="2233.6" r="4.25"/>
<circle cx="900.9" cy="2232.9" r="4.25"/>
<circle cx="908.2" cy="2236.5" r="4.25"/>
<circle cx="918.8" cy="2232.2" r="4.25"/>
<circle cx="927.8" cy="2230.0" r="4.25"/>
<circle cx="929.9" cy="2235.8" r="4.25"/>
<circle cx="949.2" cy="2230.7" r="4.25"/>
<circle cx="906.7" cy="2256.8" r="4.25"/>
<circle cx="951.7" cy="2251.7" r="4.25"/>
<circle cx="915.9" cy="2270.9" r="4.25"/>
</g>
<line x1="1034.2" y1="1888.0" x2="1034.2" y2="1971.1" stroke="#333333" stroke-width="2.3" />
<line x1="1034.2" y1="2049.8" x2="1034.2" y2="2154.0" stroke="#333333" stroke-width="2.3" />
<rect x="983.1" y="1971.1" width="102.3" height="78.7" fill="#868686" stroke="#333333" stroke-width="2.2" />
<line x1="983.1" y1="1989.5" x2="1085.4" y2="1989.5" stroke="#333333" stroke-width="5" />
<g fill="#868686" stroke="#000" stroke-width="1.6">
<circle cx="1089.2" cy="1886.8" r="4.25"/>
<circle cx="1083.6" cy="1921.1" r="4.25"/>
<circle cx="1065.8" cy="1924.8" r="4.25"/>
<circle cx="1072.8" cy="1938.0" r="4.25"/>
<circle cx="989.7" cy="1926.7" r="4.25"/>
<circle cx="981.6" cy="1933.2" r="4.25"/>
<circle cx="992.9" cy="1940.9" r="4.25"/>
<circle cx="1012.2" cy="1929.9" r="4.25"/>
<circle cx="1014.3" cy="1925.9" r="4.25"/>
<circle cx="1032.0" cy="1933.5" r="4.25"/>
<circle cx="1038.5" cy="1929.9" r="4.25"/>
<circle cx="1039.3" cy="1928.3" r="4.25"/>
<circle cx="1040.9" cy="1946.4" r="4.25"/>
<circle cx="1036.0" cy="1950.9" r="4.25"/>
<circle cx="1058.6" cy="1953.3" r="4.25"/>
<circle cx="992.2" cy="1964.1" r="4.25"/>
<circle cx="1011.1" cy="1961.8" r="4.25"/>
<circle cx="1019.1" cy="1959.7" r="4.25"/>
<circle cx="1025.6" cy="1965.4" r="4.25"/>
<circle cx="1043.3" cy="1960.5" r="4.25"/>
<circle cx="1036.0" cy="1966.2" r="4.25"/>
<circle cx="1058.3" cy="1963.8" r="4.25"/>
<circle cx="1065.8" cy="1966.2" r="4.25"/>
<circle cx="986.1" cy="1973.4" r="4.25"/>
<circle cx="989.3" cy="1972.6" r="4.25"/>
<circle cx="981.6" cy="1983.1" r="4.25"/>
<circle cx="989.0" cy="1981.8" r="4.25"/>
<circle cx="994.2" cy="1992.0" r="4.25"/>
<circle cx="1000.3" cy="1990.3" r="4.25"/>
<circle cx="996.6" cy="1987.9" r="4.25"/>
<circle cx="1002.2" cy="1979.1" r="4.25"/>
<circle cx="1003.8" cy="1975.0" r="4.25"/>
<circle cx="1007.9" cy="1975.0" r="4.25"/>
<circle cx="1012.7" cy="1972.6" r="4.25"/>
<circle cx="1010.3" cy="1971.0" r="4.25"/>
<circle cx="1011.1" cy="1991.1" r="4.25"/>
<circle cx="1020.7" cy="1989.5" r="4.25"/>
<circle cx="1024.0" cy="1975.0" r="4.25"/>
<circle cx="1027.2" cy="1971.8" r="4.25"/>
<circle cx="1026.4" cy="1981.8" r="4.25"/>
<circle cx="1030.4" cy="1978.3" r="4.25"/>
<circle cx="1029.9" cy="1989.5" r="4.25"/>
<circle cx="1038.5" cy="1972.1" r="4.25"/>
<circle cx="1041.7" cy="1970.2" r="4.25"/>
<circle cx="1048.9" cy="1970.5" r="4.25"/>
<circle cx="1053.0" cy="1973.1" r="4.25"/>
<circle cx="1068.6" cy="1975.4" r="4.25"/>
<circle cx="1040.9" cy="1989.5" r="4.25"/>
<circle cx="1044.9" cy="1986.3" r="4.25"/>
<circle cx="1048.9" cy="1985.5" r="4.25"/>
<circle cx="1060.2" cy="1982.8" r="4.25"/>
<circle cx="1063.4" cy="1986.3" r="4.25"/>
<circle cx="1077.1" cy="1986.3" r="4.25"/>
<circle cx="1077.9" cy="1984.7" r="4.25"/>
<circle cx="1040.1" cy="2001.1" r="4.25"/>
<circle cx="1047.3" cy="1999.5" r="4.25"/>
<circle cx="1069.1" cy="2005.6" r="4.25"/>
<circle cx="1052.2" cy="2012.9" r="4.25"/>
<circle cx="1054.6" cy="2015.0" r="4.25"/>
<circle cx="982.6" cy="2027.9" r="4.25"/>
<circle cx="991.3" cy="2031.7" r="4.25"/>
<circle cx="999.8" cy="2024.7" r="4.25"/>
<circle cx="1005.8" cy="2025.0" r="4.25"/>
<circle cx="1013.2" cy="2027.4" r="4.25"/>
<circle cx="1021.5" cy="2027.4" r="4.25"/>
<circle cx="1027.7" cy="2022.6" r="4.25"/>
<circle cx="1032.8" cy="2025.8" r="4.25"/>
<circle cx="1031.2" cy="2033.0" r="4.25"/>
<circle cx="1008.7" cy="2035.9" r="4.25"/>
<circle cx="1019.9" cy="2037.1" r="4.25"/>
<circle cx="1019.9" cy="2043.0" r="4.25"/>
<circle cx="989.7" cy="2043.0" r="4.25"/>
<circle cx="1033.6" cy="2043.5" r="4.25"/>
<circle cx="1032.8" cy="2048.3" r="4.25"/>
<circle cx="1058.3" cy="2031.7" r="4.25"/>
<circle cx="1067.0" cy="2037.1" r="4.25"/>
<circle cx="1081.1" cy="2041.1" r="4.25"/>
<circle cx="1082.0" cy="2024.2" r="4.25"/>
<circle cx="1083.6" cy="2030.6" r="4.25"/>
<circle cx="988.5" cy="2055.6" r="4.25"/>
<circle cx="1067.0" cy="2065.2" r="4.25"/>
<circle cx="1017.0" cy="2083.8" r="4.25"/>
<circle cx="993.8" cy="2089.1" r="4.25"/>
<circle cx="985.8" cy="2097.5" r="4.25"/>
<circle cx="984.5" cy="2102.0" r="4.25"/>
<circle cx="998.2" cy="2102.0" r="4.25"/>
<circle cx="1006.7" cy="2096.2" r="4.25"/>
<circle cx="986.9" cy="2107.9" r="4.25"/>
<circle cx="993.4" cy="2112.8" r="4.25"/>
<circle cx="1015.4" cy="2111.6" r="4.25"/>
<circle cx="1005.8" cy="2121.3" r="4.25"/>
<circle cx="1012.2" cy="2131.0" r="4.25"/>
<circle cx="1021.5" cy="2126.5" r="4.25"/>
<circle cx="1024.8" cy="2131.0" r="4.25"/>
<circle cx="1028.3" cy="2128.9" r="4.25"/>
<circle cx="1003.5" cy="2138.5" r="4.25"/>
<circle cx="988.0" cy="2152.2" r="4.25"/>
<circle cx="993.8" cy="2150.9" r="4.25"/>
<circle cx="1033.6" cy="2145.0" r="4.25"/>
<circle cx="1060.2" cy="2100.4" r="4.25"/>
<circle cx="1057.3" cy="2116.5" r="4.25"/>
<circle cx="1061.0" cy="2141.8" r="4.25"/>
<circle cx="1051.8" cy="2158.7" r="4.25"/>
<circle cx="1038.0" cy="2216.7" r="4.25"/>
<circle cx="1009.5" cy="2244.0" r="4.25"/>
<circle cx="1067.9" cy="2251.3" r="4.25"/>
<circle cx="1082.8" cy="2248.9" r="4.25"/>
<circle cx="981.6" cy="2268.2" r="4.25"/>
<circle cx="997.4" cy="2273.8" r="4.25"/>
</g>
<rect x="134.6" y="1865.6" width="982.0" height="465.9" fill="none" stroke="#afafaf" stroke-width="1.8" />
<line x1="128.1" y1="2307.8" x2="134.6" y2="2307.8" stroke="#b3b3b3" stroke-width="1.6" />
<text x="123.6" y="2314.9" font-size="19.4" fill="#4d4d4d" text-anchor="end">0</text>
<line x1="128.1" y1="2218.0" x2="134.6" y2="2218.0" stroke="#b3b3b3" stroke-width="1.6" />
<text x="123.6" y="2225.1" font-size="19.4" fill="#4d4d4d" text-anchor="end">5</text>
<line x1="128.1" y1="2128.2" x2="134.6" y2="2128.2" stroke="#b3b3b3" stroke-width="1.6" />
<text x="123.6" y="2135.2" font-size="19.4" fill="#4d4d4d" text-anchor="end">10</text>
<line x1="128.1" y1="2038.3" x2="134.6" y2="2038.3" stroke="#b3b3b3" stroke-width="1.6" />
<text x="123.6" y="2045.4" font-size="19.4" fill="#4d4d4d" text-anchor="end">15</text>
<line x1="128.1" y1="1948.5" x2="134.6" y2="1948.5" stroke="#b3b3b3" stroke-width="1.6" />
<text x="123.6" y="1955.6" font-size="19.4" fill="#4d4d4d" text-anchor="end">20</text>
<line x1="215.8" y1="2331.5" x2="215.8" y2="2337.7" stroke="#b3b3b3" stroke-width="1.6" />
<text x="0.0" y="0.0" font-size="21.4" fill="#4d4d4d" font-weight="bold" text-anchor="end" transform="translate(226.3,2352.5) rotate(-45)">solid</text>
<line x1="352.2" y1="2331.5" x2="352.2" y2="2337.7" stroke="#b3b3b3" stroke-width="1.6" />
<text x="0.0" y="0.0" font-size="21.4" fill="#4d4d4d" font-weight="bold" text-anchor="end" transform="translate(362.7,2352.5) rotate(-45)">liquid</text>
<line x1="488.6" y1="2331.5" x2="488.6" y2="2337.7" stroke="#b3b3b3" stroke-width="1.6" />
<text x="0.0" y="0.0" font-size="21.4" fill="#4d4d4d" font-weight="bold" text-anchor="end" transform="translate(499.1,2352.5) rotate(-45)">SCFM</text>
<line x1="625.0" y1="2331.5" x2="625.0" y2="2337.7" stroke="#b3b3b3" stroke-width="1.6" />
<text x="0.0" y="0.0" font-size="21.4" fill="#4d4d4d" font-weight="bold" text-anchor="end" transform="translate(635.5,2352.5) rotate(-45)">sputum</text>
<line x1="761.4" y1="2331.5" x2="761.4" y2="2337.7" stroke="#b3b3b3" stroke-width="1.6" />
<text x="0.0" y="0.0" font-size="21.4" fill="#4d4d4d" font-weight="bold" text-anchor="end" transform="translate(771.9,2352.5) rotate(-45)">sputum vs. solid</text>
<line x1="897.8" y1="2331.5" x2="897.8" y2="2337.7" stroke="#b3b3b3" stroke-width="1.6" />
<text x="0.0" y="0.0" font-size="21.4" fill="#4d4d4d" font-weight="bold" text-anchor="end" transform="translate(908.3,2352.5) rotate(-45)">sputum vs. liquid</text>
<line x1="1034.2" y1="2331.5" x2="1034.2" y2="2337.7" stroke="#b3b3b3" stroke-width="1.6" />
<text x="0.0" y="0.0" font-size="21.4" fill="#4d4d4d" font-weight="bold" text-anchor="end" transform="translate(1044.7,2352.5) rotate(-45)">sputum vs. SCFM</text>
<text x="0.0" y="0.0" font-size="24.5" fill="#000" text-anchor="middle" textLength="208.0" lengthAdjust="spacingAndGlyphs" transform="translate(91.0,2098.9) rotate(-90)">Euclidean distance</text>
<text x="143.8" y="1904.4" font-size="30.5" fill="#000" font-style="italic" textLength="351.2" lengthAdjust="spacingAndGlyphs">Alginate pathway genes</text>
<text x="612.8" y="1887.9" font-size="22.5" fill="#000" font-weight="bold" textLength="170.8" lengthAdjust="spacingAndGlyphs">P=E-45 (MW)</text>
<line x1="567.9" y1="1895.3" x2="824.9" y2="1895.3" stroke="#000" stroke-width="3.7" />
<text x="949.6" y="2315.7" font-size="22.5" fill="#000" font-weight="bold" textLength="166.6" lengthAdjust="spacingAndGlyphs">P=E-09 (KW)</text>
<text x="-1.2" y="1868.0" font-size="53.5" fill="#000" font-weight="bold" textLength="37.7" lengthAdjust="spacingAndGlyphs">D</text></svg>
</body></html>
